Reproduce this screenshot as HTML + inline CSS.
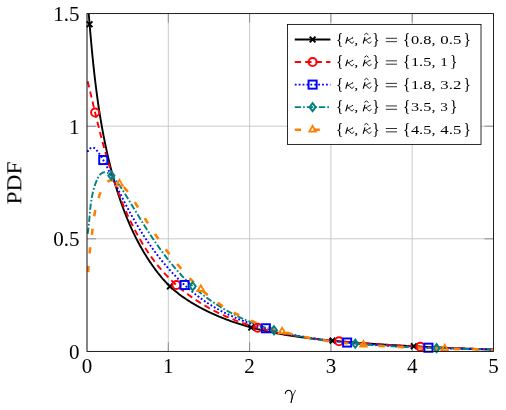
<!DOCTYPE html><html><head><meta charset="utf-8"><style>html,body{margin:0;padding:0;background:#fff}svg{display:block}text{font-family:"Liberation Serif",serif;fill:#000}</style></head><body>
<svg width="506" height="410" viewBox="0 0 506 410" style="will-change:transform">
<rect width="506" height="410" fill="#fff"/>
<line x1="87.00" y1="13.6" x2="87.00" y2="351.4" stroke="#bfbfbf" stroke-width="0.83"/>
<line x1="168.30" y1="13.6" x2="168.30" y2="351.4" stroke="#bfbfbf" stroke-width="0.83"/>
<line x1="249.60" y1="13.6" x2="249.60" y2="351.4" stroke="#bfbfbf" stroke-width="0.83"/>
<line x1="330.90" y1="13.6" x2="330.90" y2="351.4" stroke="#bfbfbf" stroke-width="0.83"/>
<line x1="412.20" y1="13.6" x2="412.20" y2="351.4" stroke="#bfbfbf" stroke-width="0.83"/>
<line x1="493.50" y1="13.6" x2="493.50" y2="351.4" stroke="#bfbfbf" stroke-width="0.83"/>
<line x1="87.0" y1="351.40" x2="493.5" y2="351.40" stroke="#bfbfbf" stroke-width="0.83"/>
<line x1="87.0" y1="238.80" x2="493.5" y2="238.80" stroke="#bfbfbf" stroke-width="0.83"/>
<line x1="87.0" y1="126.20" x2="493.5" y2="126.20" stroke="#bfbfbf" stroke-width="0.83"/>
<line x1="87.0" y1="13.60" x2="493.5" y2="13.60" stroke="#bfbfbf" stroke-width="0.83"/>
<path d="M168.30,13.6 v9.0 M168.30,351.4 v-9.0" stroke="#7c7c7c" stroke-width="0.83" fill="none"/>
<path d="M249.60,13.6 v9.0 M249.60,351.4 v-9.0" stroke="#7c7c7c" stroke-width="0.83" fill="none"/>
<path d="M330.90,13.6 v9.0 M330.90,351.4 v-9.0" stroke="#7c7c7c" stroke-width="0.83" fill="none"/>
<path d="M412.20,13.6 v9.0 M412.20,351.4 v-9.0" stroke="#7c7c7c" stroke-width="0.83" fill="none"/>
<path d="M87.0,238.80 h9.0 M493.5,238.80 h-9.0" stroke="#7c7c7c" stroke-width="0.83" fill="none"/>
<path d="M87.0,126.20 h9.0 M493.5,126.20 h-9.0" stroke="#7c7c7c" stroke-width="0.83" fill="none"/>
<clipPath id="c"><rect x="87.0" y="13.6" width="406.5" height="337.79999999999995"/></clipPath>
<g clip-path="url(#c)">
<path d="M88.72,13.56 L88.79,14.39 L88.86,15.22 L88.92,16.04 L88.99,16.87 L89.06,17.70 L89.13,18.53 L89.20,19.36 L89.27,20.19 L89.33,21.02 L89.40,21.85 L89.47,22.68 L89.54,23.51 L89.61,24.33 L89.68,25.16 L89.75,25.99 L89.82,26.82 L89.89,27.65 L89.96,28.48 L90.03,29.31 L90.10,30.14 L90.17,30.97 L90.25,31.80 L90.32,32.63 L90.39,33.46 L90.46,34.29 L90.53,35.13 L90.61,35.96 L90.68,36.79 L90.75,37.62 L90.83,38.45 L90.90,39.28 L90.98,40.11 L91.05,40.94 L91.13,41.77 L91.20,42.60 L91.28,43.43 L91.36,44.26 L91.43,45.10 L91.51,45.93 L91.59,46.76 L91.66,47.59 L91.74,48.42 L91.82,49.25 L91.90,50.08 L91.98,50.91 L92.06,51.75 L92.14,52.58 L92.22,53.41 L92.30,54.24 L92.38,55.07 L92.46,55.90 L92.55,56.73 L92.63,57.56 L92.71,58.40 L92.80,59.23 L92.88,60.06 L92.97,60.89 L93.05,61.72 L93.14,62.55 L93.22,63.38 L93.31,64.22 L93.40,65.05 L93.49,65.88 L93.58,66.71 L93.66,67.54 L93.75,68.37 L93.84,69.20 L93.94,70.03 L94.03,70.86 L94.12,71.69 L94.21,72.53 L94.30,73.36 L94.40,74.19 L94.49,75.02 L94.59,75.85 L94.68,76.68 L94.78,77.51 L94.88,78.34 L94.97,79.17 L95.07,80.00 L95.17,80.83 L95.27,81.66 L95.37,82.49 L95.47,83.32 L95.57,84.15 L95.67,84.98 L95.78,85.81 L95.88,86.64 L95.99,87.47 L96.09,88.30 L96.20,89.13 L96.30,89.96 L96.41,90.79 L96.52,91.62 L96.63,92.45 L96.74,93.27 L96.85,94.10 L96.96,94.93 L97.07,95.76 L97.18,96.59 L97.29,97.42 L97.41,98.24 L97.52,99.07 L97.64,99.90 L97.76,100.73 L97.87,101.56 L97.99,102.38 L98.11,103.21 L98.23,104.04 L98.35,104.86 L98.47,105.69 L98.60,106.52 L98.72,107.34 L98.84,108.17 L98.97,109.00 L99.09,109.82 L99.22,110.65 L99.35,111.47 L99.48,112.30 L99.61,113.13 L99.74,113.95 L99.87,114.78 L100.00,115.60 L100.13,116.42 L100.27,117.25 L100.40,118.07 L100.54,118.90 L100.68,119.72 L100.82,120.55 L100.96,121.37 L101.10,122.19 L101.24,123.01 L101.38,123.84 L101.52,124.66 L101.67,125.48 L101.81,126.31 L101.96,127.13 L102.10,127.95 L102.25,128.77 L102.40,129.59 L102.55,130.41 L102.70,131.23 L102.86,132.05 L103.01,132.88 L103.16,133.70 L103.32,134.52 L103.48,135.33 L103.64,136.15 L103.79,136.97 L103.95,137.79 L104.12,138.61 L104.28,139.43 L104.44,140.25 L104.61,141.07 L104.77,141.88 L104.94,142.70 L105.11,143.52 L105.28,144.34 L105.45,145.15 L105.62,145.97 L105.79,146.78 L105.97,147.60 L106.14,148.42 L106.32,149.23 L106.50,150.05 L106.68,150.86 L106.86,151.67 L107.04,152.49 L107.22,153.30 L107.40,154.12 L107.59,154.93 L107.78,155.74 L107.96,156.55 L108.15,157.37 L108.34,158.18 L108.53,158.99 L108.73,159.80 L108.92,160.61 L109.12,161.42 L109.31,162.23 L109.51,163.04 L109.71,163.85 L109.91,164.66 L110.11,165.47 L110.32,166.28 L110.52,167.09 L110.73,167.90 L110.94,168.70 L111.15,169.51 L111.36,170.32 L111.57,171.12 L111.78,171.93 L112.00,172.74 L112.21,173.54 L112.43,174.35 L112.65,175.15 L112.87,175.96 L113.09,176.76 L113.31,177.56 L113.54,178.37 L113.76,179.17 L113.99,179.97 L114.22,180.77 L114.45,181.58 L114.68,182.38 L114.92,183.18 L115.15,183.98 L115.39,184.78 L115.63,185.58 L115.86,186.38 L116.11,187.18 L116.35,187.97 L116.59,188.77 L116.84,189.57 L117.09,190.37 L117.34,191.16 L117.59,191.96 L117.84,192.75 L118.09,193.55 L118.35,194.34 L118.61,195.14 L118.87,195.93 L119.13,196.72 L119.39,197.51 L119.65,198.30 L119.92,199.09 L120.19,199.88 L120.46,200.67 L120.73,201.46 L121.00,202.25 L121.28,203.04 L121.56,203.83 L121.84,204.61 L122.12,205.40 L122.40,206.18 L122.68,206.96 L122.97,207.75 L123.26,208.53 L123.55,209.31 L123.84,210.09 L124.14,210.87 L124.44,211.65 L124.73,212.43 L125.03,213.21 L125.34,213.98 L125.64,214.76 L125.95,215.53 L126.26,216.31 L126.57,217.08 L126.88,217.85 L127.20,218.63 L127.52,219.40 L127.84,220.17 L128.16,220.93 L128.48,221.70 L128.81,222.47 L129.14,223.24 L129.47,224.00 L129.80,224.76 L130.14,225.53 L130.47,226.29 L130.81,227.05 L131.16,227.81 L131.50,228.57 L131.85,229.33 L132.20,230.08 L132.55,230.84 L132.90,231.59 L133.26,232.34 L133.62,233.10 L133.98,233.85 L134.34,234.60 L134.71,235.35 L135.08,236.09 L135.45,236.84 L135.82,237.59 L136.20,238.33 L136.58,239.07 L136.96,239.81 L137.34,240.55 L137.73,241.29 L138.11,242.03 L138.51,242.77 L138.90,243.50 L139.30,244.24 L139.70,244.97 L140.10,245.70 L140.50,246.43 L140.91,247.16 L141.32,247.89 L141.73,248.61 L142.15,249.34 L142.57,250.06 L142.99,250.78 L143.41,251.51 L143.84,252.22 L144.27,252.94 L144.70,253.66 L145.13,254.37 L145.57,255.09 L146.01,255.80 L146.45,256.51 L146.90,257.22 L147.35,257.92 L147.80,258.63 L148.26,259.33 L148.71,260.03 L149.17,260.73 L149.64,261.43 L150.10,262.13 L150.57,262.82 L151.05,263.51 L151.52,264.20 L152.00,264.89 L152.48,265.58 L152.96,266.26 L153.45,266.94 L153.94,267.62 L154.44,268.30 L154.93,268.97 L155.43,269.64 L155.93,270.31 L156.44,270.98 L156.95,271.64 L157.46,272.30 L157.97,272.96 L158.49,273.62 L159.01,274.27 L159.53,274.92 L160.06,275.57 L160.59,276.21 L161.12,276.85 L161.66,277.49 L162.20,278.13 L162.75,278.76 L163.29,279.39 L163.85,280.01 L164.40,280.63 L164.96,281.25 L165.53,281.86 L166.09,282.46 L166.67,283.07 L167.24,283.67 L167.83,284.26 L168.41,284.85 L169.01,285.43 L169.60,286.01 L170.20,286.59 L170.81,287.16 L171.42,287.72 L172.04,288.28 L172.66,288.84 L173.28,289.39 L173.91,289.94 L174.55,290.48 L175.19,291.02 L175.83,291.55 L176.47,292.08 L177.12,292.60 L177.78,293.12 L178.44,293.64 L179.10,294.15 L179.76,294.65 L180.43,295.15 L181.10,295.65 L181.78,296.15 L182.46,296.63 L183.14,297.12 L183.83,297.60 L184.52,298.08 L185.21,298.55 L185.90,299.02 L186.60,299.49 L187.30,299.95 L188.00,300.40 L188.71,300.86 L189.42,301.31 L190.13,301.75 L190.84,302.19 L191.56,302.63 L192.27,303.07 L192.99,303.50 L193.71,303.93 L194.44,304.35 L195.16,304.77 L195.89,305.19 L196.62,305.60 L197.35,306.01 L198.08,306.42 L198.81,306.82 L199.55,307.22 L200.28,307.62 L201.02,308.01 L201.76,308.40 L202.50,308.79 L203.24,309.18 L203.98,309.56 L204.73,309.94 L205.47,310.31 L206.22,310.68 L206.96,311.05 L207.71,311.42 L208.46,311.78 L209.21,312.14 L209.96,312.49 L210.71,312.85 L211.47,313.20 L212.22,313.55 L212.98,313.89 L213.74,314.23 L214.49,314.57 L215.25,314.91 L216.01,315.24 L216.77,315.57 L217.54,315.90 L218.30,316.22 L219.06,316.54 L219.83,316.86 L220.60,317.18 L221.36,317.49 L222.13,317.80 L222.90,318.11 L223.67,318.41 L224.44,318.71 L225.22,319.01 L225.99,319.31 L226.76,319.60 L227.54,319.89 L228.32,320.18 L229.09,320.47 L229.87,320.75 L230.65,321.03 L231.43,321.31 L232.21,321.58 L232.99,321.86 L233.78,322.13 L234.56,322.39 L235.35,322.66 L236.13,322.92 L236.92,323.18 L237.70,323.44 L238.49,323.70 L239.28,323.95 L240.07,324.20 L240.86,324.45 L241.65,324.69 L242.45,324.94 L243.24,325.18 L244.03,325.42 L244.83,325.65 L245.62,325.89 L246.42,326.12 L247.22,326.35 L248.01,326.57 L248.81,326.80 L249.61,327.02 L250.41,327.24 L251.21,327.46 L252.01,327.67 L252.82,327.89 L253.62,328.10 L254.42,328.31 L255.23,328.52 L256.03,328.72 L256.84,328.93 L257.64,329.13 L258.45,329.33 L259.26,329.52 L260.07,329.72 L260.88,329.91 L261.69,330.10 L262.50,330.29 L263.31,330.48 L264.12,330.66 L264.93,330.84 L265.74,331.03 L266.56,331.20 L267.37,331.38 L268.19,331.56 L269.00,331.73 L269.82,331.90 L270.63,332.07 L271.45,332.24 L272.27,332.41 L273.09,332.57 L273.90,332.73 L274.72,332.89 L275.54,333.05 L276.36,333.21 L277.18,333.37 L278.00,333.52 L278.82,333.67 L279.65,333.82 L280.47,333.97 L281.29,334.12 L282.12,334.27 L282.94,334.41 L283.76,334.55 L284.59,334.69 L285.41,334.83 L286.24,334.97 L287.06,335.11 L287.89,335.24 L288.72,335.37 L289.54,335.51 L290.37,335.64 L291.20,335.77 L292.03,335.89 L292.85,336.02 L293.68,336.14 L294.51,336.27 L295.34,336.39 L296.17,336.51 L297.00,336.63 L297.83,336.75 L298.66,336.86 L299.49,336.98 L300.33,337.09 L301.16,337.21 L301.99,337.32 L302.82,337.43 L303.65,337.54 L304.49,337.65 L305.32,337.75 L306.15,337.86 L306.98,337.96 L307.82,338.07 L308.65,338.17 L309.49,338.27 L310.32,338.37 L311.15,338.47 L311.99,338.57 L312.82,338.66 L313.66,338.76 L314.49,338.85 L315.33,338.95 L316.16,339.04 L317.00,339.13 L317.83,339.22 L318.67,339.31 L319.51,339.40 L320.34,339.49 L321.18,339.58 L322.01,339.66 L322.85,339.75 L323.69,339.83 L324.52,339.92 L325.36,340.00 L326.20,340.08 L327.03,340.16 L327.87,340.24 L328.71,340.32 L329.54,340.40 L330.38,340.48 L331.21,340.56 L332.05,340.64 L332.89,340.71 L333.72,340.79 L334.56,340.86 L335.40,340.94 L336.23,341.01 L337.07,341.08 L337.91,341.16 L338.74,341.23 L339.58,341.30 L340.42,341.37 L341.25,341.44 L342.09,341.51 L342.92,341.58 L343.76,341.65 L344.59,341.72 L345.43,341.79 L346.27,341.85 L347.10,341.92 L347.94,341.99 L348.77,342.06 L349.61,342.12 L350.44,342.19 L351.28,342.25 L352.11,342.32 L352.94,342.38 L353.78,342.45 L354.61,342.51 L355.45,342.58 L356.28,342.64 L357.11,342.70 L357.95,342.76 L358.78,342.83 L359.61,342.89 L360.45,342.95 L361.28,343.01 L362.11,343.07 L362.94,343.13 L363.78,343.19 L364.61,343.25 L365.44,343.31 L366.27,343.37 L367.11,343.43 L367.94,343.49 L368.77,343.55 L369.60,343.61 L370.43,343.66 L371.26,343.72 L372.10,343.78 L372.93,343.84 L373.76,343.89 L374.59,343.95 L375.42,344.00 L376.25,344.06 L377.08,344.12 L377.91,344.17 L378.74,344.22 L379.57,344.28 L380.41,344.33 L381.24,344.39 L382.07,344.44 L382.90,344.49 L383.73,344.55 L384.56,344.60 L385.39,344.65 L386.22,344.70 L387.05,344.75 L387.88,344.81 L388.71,344.86 L389.54,344.91 L390.37,344.96 L391.20,345.01 L392.03,345.06 L392.86,345.11 L393.69,345.16 L394.52,345.21 L395.35,345.26 L396.18,345.30 L397.01,345.35 L397.84,345.40 L398.67,345.45 L399.50,345.50 L400.33,345.54 L401.16,345.59 L401.99,345.64 L402.82,345.68 L403.65,345.73 L404.48,345.78 L405.31,345.82 L406.14,345.87 L406.97,345.91 L407.80,345.96 L408.63,346.00 L409.46,346.05 L410.29,346.09 L411.12,346.13 L411.95,346.18 L412.78,346.22 L413.61,346.26 L414.44,346.31 L415.27,346.35 L416.10,346.39 L416.93,346.43 L417.76,346.48 L418.59,346.52 L419.42,346.56 L420.25,346.60 L421.08,346.64 L421.91,346.68 L422.74,346.72 L423.57,346.77 L424.40,346.81 L425.23,346.85 L426.07,346.89 L426.90,346.92 L427.73,346.96 L428.56,347.00 L429.39,347.04 L430.22,347.08 L431.05,347.12 L431.88,347.16 L432.72,347.20 L433.55,347.23 L434.38,347.27 L435.21,347.31 L436.04,347.35 L436.87,347.38 L437.71,347.42 L438.54,347.46 L439.37,347.49 L440.20,347.53 L441.04,347.57 L441.87,347.60 L442.70,347.64 L443.54,347.68 L444.37,347.71 L445.20,347.75 L446.04,347.78 L446.87,347.82 L447.70,347.85 L448.54,347.89 L449.37,347.92 L450.20,347.95 L451.04,347.99 L451.87,348.02 L452.71,348.06 L453.54,348.09 L454.38,348.12 L455.21,348.16 L456.05,348.19 L456.88,348.22 L457.72,348.26 L458.55,348.29 L459.39,348.32 L460.23,348.35 L461.06,348.39 L461.90,348.42 L462.73,348.45 L463.57,348.48 L464.41,348.51 L465.25,348.54 L466.08,348.58 L466.92,348.61 L467.76,348.64 L468.60,348.67 L469.43,348.70 L470.27,348.73 L471.11,348.76 L471.95,348.79 L472.79,348.82 L473.63,348.85 L474.47,348.88 L475.31,348.91 L476.15,348.94 L476.99,348.97 L477.83,349.00 L478.67,349.03 L479.51,349.06 L480.35,349.09 L481.19,349.12 L482.03,349.15 L482.87,349.18 L483.72,349.20 L484.56,349.23 L485.40,349.26 L486.24,349.29 L487.09,349.32 L487.93,349.35 L488.77,349.37 L489.62,349.40 L490.46,349.43 L491.30,349.46 L492.15,349.49 L492.99,349.51" fill="none" stroke="#000000" stroke-width="1.9" stroke-linejoin="round"/>
<path d="M87.68,81.29 L87.85,82.00 L88.02,82.72 L88.19,83.43 L88.36,84.15 L88.54,84.86 L88.71,85.58 L88.88,86.30 L89.05,87.01 L89.22,87.73 L89.39,88.45 L89.56,89.16 L89.73,89.88 L89.90,90.60 L90.07,91.31 L90.24,92.03 L90.41,92.75 L90.58,93.47 L90.75,94.18 L90.92,94.90 L91.09,95.62 L91.26,96.34 L91.43,97.06 L91.60,97.77 L91.77,98.49 L91.94,99.21 L92.11,99.93 L92.28,100.65 L92.45,101.37 L92.63,102.09 L92.80,102.81 L92.97,103.53 L93.14,104.25 L93.31,104.97 L93.48,105.68 L93.65,106.40 L93.83,107.12 L94.00,107.84 L94.17,108.56 L94.34,109.28 L94.51,110.00 L94.69,110.72 L94.86,111.44 L95.03,112.16 L95.21,112.88 L95.38,113.60 L95.55,114.32 L95.73,115.04 L95.90,115.76 L96.08,116.48 L96.25,117.20 L96.43,117.92 L96.60,118.64 L96.78,119.36 L96.96,120.08 L97.13,120.80 L97.31,121.52 L97.49,122.24 L97.67,122.96 L97.84,123.68 L98.02,124.40 L98.20,125.12 L98.38,125.84 L98.56,126.56 L98.74,127.28 L98.92,128.00 L99.10,128.72 L99.28,129.44 L99.47,130.16 L99.65,130.88 L99.83,131.60 L100.02,132.32 L100.20,133.04 L100.38,133.76 L100.57,134.47 L100.75,135.19 L100.94,135.91 L101.13,136.63 L101.31,137.35 L101.50,138.07 L101.69,138.78 L101.88,139.50 L102.07,140.22 L102.26,140.94 L102.45,141.66 L102.64,142.37 L102.83,143.09 L103.02,143.81 L103.22,144.52 L103.41,145.24 L103.61,145.96 L103.80,146.67 L104.00,147.39 L104.19,148.10 L104.39,148.82 L104.59,149.54 L104.79,150.25 L104.99,150.97 L105.19,151.68 L105.39,152.39 L105.59,153.11 L105.79,153.82 L106.00,154.54 L106.20,155.25 L106.40,155.96 L106.61,156.68 L106.82,157.39 L107.02,158.10 L107.23,158.81 L107.44,159.53 L107.65,160.24 L107.86,160.95 L108.07,161.66 L108.28,162.37 L108.50,163.08 L108.71,163.79 L108.93,164.50 L109.14,165.21 L109.36,165.92 L109.58,166.63 L109.80,167.34 L110.02,168.05 L110.24,168.76 L110.46,169.46 L110.68,170.17 L110.90,170.88 L111.13,171.59 L111.35,172.29 L111.58,173.00 L111.81,173.70 L112.04,174.41 L112.27,175.11 L112.50,175.82 L112.73,176.52 L112.96,177.23 L113.20,177.93 L113.43,178.63 L113.67,179.34 L113.90,180.04 L114.14,180.74 L114.38,181.44 L114.62,182.14 L114.86,182.84 L115.11,183.54 L115.35,184.24 L115.60,184.94 L115.84,185.64 L116.09,186.34 L116.34,187.04 L116.59,187.74 L116.84,188.43 L117.09,189.13 L117.35,189.83 L117.60,190.52 L117.86,191.22 L118.11,191.91 L118.37,192.61 L118.63,193.30 L118.89,193.99 L119.16,194.69 L119.42,195.38 L119.69,196.07 L119.95,196.76 L120.22,197.45 L120.49,198.14 L120.76,198.83 L121.03,199.52 L121.31,200.21 L121.58,200.90 L121.86,201.59 L122.13,202.27 L122.41,202.96 L122.69,203.65 L122.97,204.33 L123.26,205.02 L123.54,205.70 L123.83,206.39 L124.12,207.07 L124.41,207.75 L124.70,208.43 L124.99,209.11 L125.28,209.80 L125.58,210.48 L125.87,211.15 L126.17,211.83 L126.47,212.51 L126.77,213.19 L127.07,213.87 L127.38,214.54 L127.68,215.22 L127.99,215.89 L128.30,216.57 L128.61,217.24 L128.92,217.92 L129.24,218.59 L129.55,219.26 L129.87,219.93 L130.19,220.60 L130.51,221.27 L130.83,221.94 L131.15,222.61 L131.48,223.28 L131.81,223.95 L132.14,224.61 L132.47,225.28 L132.80,225.94 L133.13,226.61 L133.47,227.27 L133.81,227.93 L134.15,228.59 L134.49,229.26 L134.83,229.92 L135.17,230.57 L135.52,231.23 L135.87,231.89 L136.22,232.55 L136.57,233.20 L136.93,233.86 L137.28,234.51 L137.64,235.16 L138.00,235.81 L138.36,236.46 L138.72,237.11 L139.09,237.76 L139.46,238.40 L139.82,239.05 L140.20,239.69 L140.57,240.34 L140.94,240.98 L141.32,241.62 L141.70,242.26 L142.08,242.90 L142.46,243.53 L142.85,244.17 L143.24,244.80 L143.63,245.43 L144.02,246.07 L144.41,246.70 L144.81,247.32 L145.20,247.95 L145.60,248.58 L146.01,249.20 L146.41,249.82 L146.82,250.44 L147.22,251.06 L147.64,251.68 L148.05,252.30 L148.46,252.91 L148.88,253.52 L149.30,254.14 L149.72,254.75 L150.14,255.35 L150.57,255.96 L151.00,256.56 L151.43,257.17 L151.86,257.77 L152.30,258.37 L152.74,258.96 L153.18,259.56 L153.62,260.15 L154.06,260.75 L154.51,261.34 L154.96,261.92 L155.41,262.51 L155.86,263.09 L156.32,263.68 L156.78,264.26 L157.24,264.83 L157.70,265.41 L158.17,265.98 L158.64,266.56 L159.11,267.13 L159.58,267.69 L160.06,268.26 L160.54,268.82 L161.02,269.39 L161.50,269.94 L161.99,270.50 L162.47,271.06 L162.96,271.61 L163.46,272.16 L163.95,272.71 L164.45,273.25 L164.95,273.80 L165.46,274.34 L165.96,274.88 L166.47,275.41 L166.98,275.95 L167.50,276.48 L168.01,277.01 L168.53,277.53 L169.05,278.06 L169.58,278.58 L170.10,279.10 L170.63,279.62 L171.16,280.13 L171.70,280.65 L172.23,281.16 L172.77,281.67 L173.31,282.17 L173.85,282.68 L174.40,283.18 L174.94,283.68 L175.49,284.17 L176.04,284.67 L176.60,285.16 L177.15,285.65 L177.71,286.14 L178.27,286.62 L178.83,287.10 L179.40,287.58 L179.96,288.06 L180.53,288.54 L181.10,289.01 L181.67,289.48 L182.25,289.95 L182.82,290.41 L183.40,290.88 L183.98,291.34 L184.56,291.79 L185.15,292.25 L185.73,292.70 L186.32,293.16 L186.91,293.60 L187.50,294.05 L188.10,294.49 L188.69,294.94 L189.29,295.37 L189.89,295.81 L190.49,296.25 L191.09,296.68 L191.70,297.11 L192.30,297.53 L192.91,297.96 L193.52,298.38 L194.13,298.80 L194.74,299.22 L195.36,299.63 L195.97,300.04 L196.59,300.45 L197.21,300.86 L197.83,301.27 L198.45,301.67 L199.07,302.07 L199.70,302.47 L200.33,302.86 L200.95,303.25 L201.58,303.64 L202.22,304.03 L202.85,304.42 L203.48,304.80 L204.12,305.18 L204.75,305.56 L205.39,305.93 L206.03,306.30 L206.67,306.67 L207.31,307.04 L207.96,307.41 L208.60,307.77 L209.25,308.13 L209.89,308.49 L210.54,308.84 L211.19,309.20 L211.84,309.55 L212.50,309.89 L213.15,310.24 L213.80,310.58 L214.46,310.92 L215.11,311.26 L215.77,311.60 L216.43,311.93 L217.09,312.26 L217.75,312.59 L218.41,312.91 L219.07,313.23 L219.74,313.55 L220.40,313.87 L221.07,314.19 L221.74,314.50 L222.40,314.81 L223.07,315.12 L223.74,315.42 L224.41,315.73 L225.08,316.03 L225.76,316.32 L226.43,316.62 L227.10,316.91 L227.78,317.20 L228.46,317.49 L229.13,317.78 L229.81,318.06 L230.49,318.35 L231.17,318.63 L231.85,318.90 L232.53,319.18 L233.22,319.45 L233.90,319.72 L234.59,319.99 L235.27,320.26 L235.96,320.52 L236.65,320.78 L237.33,321.04 L238.02,321.30 L238.71,321.56 L239.40,321.81 L240.09,322.06 L240.79,322.31 L241.48,322.56 L242.17,322.80 L242.87,323.04 L243.56,323.28 L244.26,323.52 L244.96,323.76 L245.66,323.99 L246.35,324.23 L247.05,324.46 L247.75,324.69 L248.46,324.91 L249.16,325.14 L249.86,325.36 L250.56,325.58 L251.27,325.80 L251.97,326.01 L252.68,326.23 L253.38,326.44 L254.09,326.65 L254.80,326.86 L255.51,327.07 L256.21,327.27 L256.92,327.48 L257.63,327.68 L258.34,327.88 L259.06,328.08 L259.77,328.27 L260.48,328.47 L261.19,328.66 L261.91,328.85 L262.62,329.04 L263.34,329.23 L264.05,329.41 L264.77,329.60 L265.49,329.78 L266.21,329.96 L266.92,330.14 L267.64,330.31 L268.36,330.49 L269.08,330.66 L269.80,330.84 L270.52,331.01 L271.25,331.17 L271.97,331.34 L272.69,331.51 L273.42,331.67 L274.14,331.83 L274.86,331.99 L275.59,332.15 L276.31,332.31 L277.04,332.47 L277.77,332.62 L278.49,332.77 L279.22,332.93 L279.95,333.08 L280.68,333.22 L281.40,333.37 L282.13,333.52 L282.86,333.66 L283.59,333.80 L284.32,333.95 L285.06,334.09 L285.79,334.22 L286.52,334.36 L287.25,334.50 L287.98,334.63 L288.72,334.77 L289.45,334.90 L290.18,335.03 L290.92,335.16 L291.65,335.28 L292.39,335.41 L293.12,335.54 L293.86,335.66 L294.59,335.78 L295.33,335.90 L296.07,336.03 L296.80,336.14 L297.54,336.26 L298.28,336.38 L299.01,336.49 L299.75,336.61 L300.49,336.72 L301.23,336.83 L301.97,336.94 L302.71,337.05 L303.45,337.16 L304.19,337.27 L304.93,337.38 L305.67,337.48 L306.41,337.59 L307.15,337.69 L307.89,337.79 L308.63,337.89 L309.37,337.99 L310.11,338.09 L310.85,338.19 L311.60,338.29 L312.34,338.38 L313.08,338.48 L313.82,338.57 L314.56,338.66 L315.31,338.76 L316.05,338.85 L316.79,338.94 L317.54,339.03 L318.28,339.12 L319.02,339.20 L319.77,339.29 L320.51,339.38 L321.25,339.46 L322.00,339.55 L322.74,339.63 L323.49,339.71 L324.23,339.79 L324.97,339.87 L325.72,339.96 L326.46,340.03 L327.21,340.11 L327.95,340.19 L328.70,340.27 L329.44,340.35 L330.19,340.42 L330.93,340.50 L331.67,340.57 L332.42,340.64 L333.16,340.72 L333.91,340.79 L334.65,340.86 L335.40,340.93 L336.14,341.00 L336.89,341.07 L337.63,341.14 L338.38,341.21 L339.12,341.28 L339.86,341.35 L340.61,341.42 L341.35,341.48 L342.10,341.55 L342.84,341.61 L343.58,341.68 L344.33,341.74 L345.07,341.81 L345.82,341.87 L346.56,341.93 L347.30,342.00 L348.05,342.06 L348.79,342.12 L349.53,342.18 L350.28,342.24 L351.02,342.31 L351.76,342.37 L352.50,342.43 L353.25,342.49 L353.99,342.54 L354.73,342.60 L355.47,342.66 L356.21,342.72 L356.95,342.78 L357.69,342.84 L358.44,342.89 L359.18,342.95 L359.92,343.01 L360.66,343.06 L361.40,343.12 L362.14,343.18 L362.88,343.23 L363.62,343.29 L364.36,343.34 L365.10,343.40 L365.83,343.45 L366.57,343.51 L367.31,343.56 L368.05,343.61 L368.79,343.67 L369.53,343.72 L370.27,343.77 L371.00,343.83 L371.74,343.88 L372.48,343.93 L373.22,343.98 L373.96,344.03 L374.69,344.08 L375.43,344.14 L376.17,344.19 L376.90,344.24 L377.64,344.29 L378.38,344.34 L379.12,344.39 L379.85,344.43 L380.59,344.48 L381.33,344.53 L382.06,344.58 L382.80,344.63 L383.53,344.68 L384.27,344.72 L385.01,344.77 L385.74,344.82 L386.48,344.86 L387.21,344.91 L387.95,344.96 L388.68,345.00 L389.42,345.05 L390.16,345.09 L390.89,345.14 L391.63,345.18 L392.36,345.23 L393.10,345.27 L393.83,345.32 L394.57,345.36 L395.30,345.41 L396.04,345.45 L396.77,345.49 L397.51,345.53 L398.24,345.58 L398.98,345.62 L399.71,345.66 L400.45,345.70 L401.18,345.75 L401.92,345.79 L402.65,345.83 L403.39,345.87 L404.12,345.91 L404.86,345.95 L405.59,345.99 L406.33,346.03 L407.06,346.07 L407.79,346.11 L408.53,346.15 L409.26,346.19 L410.00,346.23 L410.73,346.26 L411.47,346.30 L412.20,346.34 L412.94,346.38 L413.67,346.42 L414.41,346.45 L415.14,346.49 L415.88,346.53 L416.61,346.56 L417.35,346.60 L418.08,346.64 L418.82,346.67 L419.55,346.71 L420.29,346.74 L421.03,346.78 L421.76,346.81 L422.50,346.85 L423.23,346.88 L423.97,346.92 L424.70,346.95 L425.44,346.98 L426.17,347.02 L426.91,347.05 L427.65,347.08 L428.38,347.12 L429.12,347.15 L429.86,347.18 L430.59,347.22 L431.33,347.25 L432.06,347.28 L432.80,347.31 L433.54,347.34 L434.28,347.37 L435.01,347.41 L435.75,347.44 L436.49,347.47 L437.22,347.50 L437.96,347.53 L438.70,347.56 L439.44,347.59 L440.17,347.62 L440.91,347.65 L441.65,347.68 L442.39,347.71 L443.13,347.74 L443.87,347.76 L444.61,347.79 L445.34,347.82 L446.08,347.85 L446.82,347.88 L447.56,347.91 L448.30,347.93 L449.04,347.96 L449.78,347.99 L450.52,348.01 L451.26,348.04 L452.00,348.07 L452.74,348.09 L453.48,348.12 L454.22,348.15 L454.97,348.17 L455.71,348.20 L456.45,348.22 L457.19,348.25 L457.93,348.27 L458.67,348.30 L459.42,348.32 L460.16,348.35 L460.90,348.37 L461.64,348.40 L462.39,348.42 L463.13,348.45 L463.88,348.47 L464.62,348.49 L465.36,348.52 L466.11,348.54 L466.85,348.56 L467.60,348.59 L468.34,348.61 L469.09,348.63 L469.83,348.65 L470.58,348.68 L471.33,348.70 L472.07,348.72 L472.82,348.74 L473.56,348.76 L474.31,348.79 L475.06,348.81 L475.81,348.83 L476.56,348.85 L477.30,348.87 L478.05,348.89 L478.80,348.91 L479.55,348.93 L480.30,348.95 L481.05,348.97 L481.80,348.99 L482.55,349.01 L483.30,349.03 L484.05,349.05 L484.80,349.07 L485.55,349.09 L486.31,349.11 L487.06,349.13 L487.81,349.15 L488.56,349.17 L489.32,349.18 L490.07,349.20 L490.82,349.22 L491.58,349.24 L492.33,349.26 L493.09,349.27" fill="none" stroke="#ff0000" stroke-width="1.9" stroke-linejoin="round" stroke-dasharray="6.25 4.17"/>
<path d="M87.90,152.00 L87.90,151.40 L88.04,150.78 L88.34,150.18 L88.77,149.60 L89.30,149.07 L89.90,148.59 L90.55,148.19 L91.24,147.88 L91.93,147.67 L92.59,147.59 L93.22,147.64 L93.81,147.82 L94.35,148.10 L94.86,148.47 L95.34,148.91 L95.81,149.40 L96.25,149.91 L96.69,150.43 L97.12,150.96 L97.54,151.49 L97.96,152.02 L98.37,152.56 L98.77,153.10 L99.16,153.64 L99.55,154.19 L99.93,154.73 L100.30,155.28 L100.67,155.84 L101.04,156.39 L101.39,156.95 L101.75,157.51 L102.09,158.08 L102.44,158.64 L102.77,159.21 L103.11,159.78 L103.44,160.35 L103.77,160.93 L104.09,161.50 L104.41,162.08 L104.72,162.66 L105.04,163.23 L105.35,163.82 L105.66,164.40 L105.96,164.98 L106.27,165.56 L106.57,166.15 L106.87,166.73 L107.17,167.32 L107.47,167.91 L107.77,168.50 L108.06,169.08 L108.36,169.67 L108.66,170.26 L108.95,170.85 L109.25,171.44 L109.54,172.03 L109.84,172.62 L110.13,173.21 L110.43,173.80 L110.72,174.39 L111.02,174.98 L111.31,175.57 L111.60,176.16 L111.89,176.75 L112.19,177.34 L112.48,177.94 L112.77,178.53 L113.06,179.12 L113.36,179.71 L113.65,180.30 L113.94,180.90 L114.23,181.49 L114.52,182.08 L114.82,182.67 L115.11,183.27 L115.40,183.86 L115.69,184.45 L115.98,185.04 L116.27,185.64 L116.57,186.23 L116.86,186.82 L117.15,187.42 L117.44,188.01 L117.74,188.60 L118.03,189.19 L118.32,189.79 L118.61,190.38 L118.91,190.97 L119.20,191.56 L119.49,192.16 L119.79,192.75 L120.08,193.34 L120.38,193.93 L120.67,194.52 L120.97,195.11 L121.26,195.71 L121.56,196.30 L121.86,196.89 L122.16,197.48 L122.45,198.07 L122.75,198.66 L123.05,199.25 L123.35,199.84 L123.65,200.43 L123.95,201.02 L124.25,201.60 L124.55,202.19 L124.85,202.78 L125.16,203.37 L125.46,203.96 L125.76,204.54 L126.07,205.13 L126.37,205.72 L126.68,206.30 L126.99,206.89 L127.30,207.47 L127.60,208.06 L127.91,208.64 L128.22,209.22 L128.54,209.81 L128.85,210.39 L129.16,210.97 L129.47,211.55 L129.79,212.13 L130.11,212.71 L130.42,213.29 L130.74,213.87 L131.06,214.45 L131.38,215.03 L131.70,215.61 L132.02,216.19 L132.34,216.76 L132.67,217.34 L132.99,217.91 L133.32,218.49 L133.64,219.06 L133.97,219.64 L134.30,220.21 L134.63,220.78 L134.96,221.35 L135.29,221.92 L135.62,222.49 L135.96,223.06 L136.29,223.63 L136.63,224.20 L136.97,224.77 L137.30,225.34 L137.64,225.90 L137.98,226.47 L138.32,227.03 L138.67,227.60 L139.01,228.16 L139.35,228.73 L139.70,229.29 L140.05,229.85 L140.39,230.41 L140.74,230.97 L141.09,231.53 L141.44,232.09 L141.80,232.65 L142.15,233.21 L142.50,233.76 L142.86,234.32 L143.22,234.87 L143.57,235.43 L143.93,235.98 L144.29,236.53 L144.65,237.09 L145.02,237.64 L145.38,238.19 L145.74,238.74 L146.11,239.29 L146.48,239.84 L146.85,240.38 L147.22,240.93 L147.59,241.48 L147.96,242.02 L148.33,242.57 L148.70,243.11 L149.08,243.65 L149.46,244.19 L149.83,244.73 L150.21,245.27 L150.59,245.81 L150.97,246.35 L151.36,246.89 L151.74,247.43 L152.13,247.96 L152.51,248.50 L152.90,249.03 L153.29,249.56 L153.68,250.10 L154.07,250.63 L154.46,251.16 L154.86,251.69 L155.25,252.22 L155.65,252.75 L156.05,253.27 L156.45,253.80 L156.85,254.32 L157.25,254.85 L157.65,255.37 L158.05,255.89 L158.46,256.41 L158.87,256.94 L159.27,257.45 L159.68,257.97 L160.09,258.49 L160.51,259.01 L160.92,259.52 L161.34,260.04 L161.75,260.55 L162.17,261.06 L162.59,261.57 L163.01,262.09 L163.43,262.59 L163.85,263.10 L164.28,263.61 L164.70,264.12 L165.13,264.62 L165.56,265.13 L165.99,265.63 L166.42,266.13 L166.85,266.63 L167.28,267.13 L167.72,267.63 L168.16,268.13 L168.59,268.63 L169.03,269.13 L169.47,269.62 L169.92,270.11 L170.36,270.61 L170.81,271.10 L171.25,271.59 L171.70,272.08 L172.15,272.57 L172.60,273.05 L173.05,273.54 L173.51,274.02 L173.96,274.51 L174.42,274.99 L174.88,275.47 L175.34,275.95 L175.80,276.43 L176.26,276.91 L176.72,277.38 L177.19,277.86 L177.66,278.33 L178.12,278.80 L178.59,279.27 L179.06,279.74 L179.54,280.21 L180.01,280.67 L180.49,281.14 L180.96,281.60 L181.44,282.06 L181.92,282.52 L182.40,282.98 L182.88,283.44 L183.37,283.89 L183.85,284.35 L184.34,284.80 L184.83,285.25 L185.32,285.70 L185.81,286.14 L186.30,286.59 L186.80,287.03 L187.29,287.47 L187.79,287.91 L188.29,288.35 L188.79,288.79 L189.29,289.22 L189.79,289.65 L190.29,290.09 L190.80,290.51 L191.31,290.94 L191.82,291.37 L192.33,291.79 L192.84,292.21 L193.35,292.63 L193.86,293.05 L194.38,293.46 L194.90,293.88 L195.42,294.29 L195.94,294.70 L196.46,295.10 L196.98,295.51 L197.50,295.91 L198.03,296.31 L198.56,296.71 L199.09,297.11 L199.62,297.50 L200.15,297.89 L200.68,298.28 L201.22,298.67 L201.75,299.05 L202.29,299.44 L202.83,299.82 L203.37,300.20 L203.91,300.57 L204.45,300.95 L205.00,301.32 L205.54,301.69 L206.09,302.05 L206.64,302.42 L207.19,302.78 L207.74,303.14 L208.30,303.49 L208.85,303.85 L209.41,304.20 L209.96,304.55 L210.52,304.90 L211.08,305.24 L211.64,305.59 L212.21,305.93 L212.77,306.27 L213.34,306.60 L213.90,306.94 L214.47,307.27 L215.04,307.60 L215.61,307.93 L216.18,308.25 L216.75,308.57 L217.33,308.90 L217.90,309.21 L218.48,309.53 L219.06,309.85 L219.64,310.16 L220.22,310.47 L220.80,310.78 L221.38,311.08 L221.96,311.39 L222.55,311.69 L223.14,311.99 L223.72,312.29 L224.31,312.58 L224.90,312.87 L225.49,313.17 L226.08,313.46 L226.67,313.74 L227.27,314.03 L227.86,314.31 L228.46,314.59 L229.05,314.87 L229.65,315.15 L230.25,315.43 L230.85,315.70 L231.45,315.97 L232.05,316.24 L232.65,316.51 L233.26,316.77 L233.86,317.04 L234.47,317.30 L235.07,317.56 L235.68,317.82 L236.29,318.08 L236.90,318.33 L237.51,318.58 L238.12,318.84 L238.73,319.08 L239.34,319.33 L239.95,319.58 L240.57,319.82 L241.18,320.06 L241.80,320.30 L242.41,320.54 L243.03,320.78 L243.65,321.01 L244.27,321.25 L244.89,321.48 L245.51,321.71 L246.13,321.94 L246.75,322.16 L247.37,322.39 L248.00,322.61 L248.62,322.83 L249.24,323.05 L249.87,323.27 L250.49,323.49 L251.12,323.70 L251.75,323.92 L252.38,324.13 L253.00,324.34 L253.63,324.55 L254.26,324.76 L254.89,324.96 L255.52,325.16 L256.15,325.37 L256.79,325.57 L257.42,325.77 L258.05,325.97 L258.68,326.16 L259.32,326.36 L259.95,326.55 L260.59,326.74 L261.22,326.93 L261.86,327.12 L262.50,327.31 L263.13,327.50 L263.77,327.68 L264.41,327.86 L265.04,328.05 L265.68,328.23 L266.32,328.41 L266.96,328.58 L267.60,328.76 L268.24,328.94 L268.88,329.11 L269.52,329.28 L270.16,329.45 L270.80,329.62 L271.45,329.79 L272.09,329.96 L272.73,330.13 L273.37,330.29 L274.02,330.46 L274.66,330.62 L275.30,330.78 L275.95,330.94 L276.59,331.10 L277.23,331.25 L277.88,331.41 L278.52,331.57 L279.17,331.72 L279.81,331.87 L280.46,332.02 L281.10,332.17 L281.75,332.32 L282.39,332.47 L283.04,332.62 L283.68,332.77 L284.33,332.91 L284.98,333.05 L285.62,333.20 L286.27,333.34 L286.92,333.48 L287.56,333.62 L288.21,333.76 L288.86,333.89 L289.51,334.03 L290.15,334.16 L290.80,334.30 L291.45,334.43 L292.10,334.56 L292.75,334.69 L293.40,334.82 L294.05,334.95 L294.69,335.08 L295.34,335.20 L295.99,335.33 L296.64,335.46 L297.29,335.58 L297.94,335.70 L298.59,335.82 L299.24,335.94 L299.89,336.06 L300.54,336.18 L301.19,336.30 L301.84,336.42 L302.49,336.53 L303.15,336.65 L303.80,336.76 L304.45,336.87 L305.10,336.99 L305.75,337.10 L306.40,337.21 L307.05,337.32 L307.71,337.43 L308.36,337.53 L309.01,337.64 L309.66,337.75 L310.32,337.85 L310.97,337.95 L311.62,338.06 L312.27,338.16 L312.93,338.26 L313.58,338.36 L314.23,338.46 L314.89,338.56 L315.54,338.66 L316.19,338.76 L316.85,338.85 L317.50,338.95 L318.16,339.04 L318.81,339.14 L319.46,339.23 L320.12,339.32 L320.77,339.42 L321.43,339.51 L322.08,339.60 L322.74,339.69 L323.39,339.78 L324.05,339.86 L324.70,339.95 L325.36,340.04 L326.01,340.12 L326.67,340.21 L327.32,340.29 L327.98,340.38 L328.64,340.46 L329.29,340.54 L329.95,340.63 L330.60,340.71 L331.26,340.79 L331.92,340.87 L332.57,340.95 L333.23,341.02 L333.88,341.10 L334.54,341.18 L335.20,341.26 L335.85,341.33 L336.51,341.41 L337.17,341.48 L337.82,341.56 L338.48,341.63 L339.14,341.70 L339.80,341.77 L340.45,341.85 L341.11,341.92 L341.77,341.99 L342.43,342.06 L343.08,342.13 L343.74,342.20 L344.40,342.26 L345.06,342.33 L345.71,342.40 L346.37,342.47 L347.03,342.53 L347.69,342.60 L348.34,342.66 L349.00,342.73 L349.66,342.79 L350.32,342.86 L350.98,342.92 L351.64,342.98 L352.29,343.04 L352.95,343.11 L353.61,343.17 L354.27,343.23 L354.93,343.29 L355.59,343.35 L356.24,343.41 L356.90,343.47 L357.56,343.53 L358.22,343.58 L358.88,343.64 L359.54,343.70 L360.20,343.76 L360.85,343.81 L361.51,343.87 L362.17,343.92 L362.83,343.98 L363.49,344.03 L364.15,344.09 L364.81,344.14 L365.47,344.20 L366.13,344.25 L366.79,344.30 L367.44,344.35 L368.10,344.41 L368.76,344.46 L369.42,344.51 L370.08,344.56 L370.74,344.61 L371.40,344.66 L372.06,344.71 L372.72,344.76 L373.38,344.81 L374.04,344.85 L374.70,344.90 L375.36,344.95 L376.02,345.00 L376.68,345.04 L377.34,345.09 L378.00,345.14 L378.66,345.18 L379.32,345.23 L379.98,345.27 L380.64,345.32 L381.30,345.36 L381.96,345.40 L382.62,345.45 L383.28,345.49 L383.94,345.53 L384.60,345.57 L385.26,345.62 L385.92,345.66 L386.58,345.70 L387.24,345.74 L387.90,345.78 L388.56,345.82 L389.22,345.86 L389.88,345.90 L390.54,345.94 L391.20,345.98 L391.86,346.02 L392.52,346.06 L393.18,346.09 L393.84,346.13 L394.50,346.17 L395.16,346.20 L395.82,346.24 L396.48,346.28 L397.14,346.31 L397.80,346.35 L398.46,346.39 L399.13,346.42 L399.79,346.46 L400.45,346.49 L401.11,346.52 L401.77,346.56 L402.43,346.59 L403.09,346.62 L403.75,346.66 L404.41,346.69 L405.07,346.72 L405.73,346.76 L406.39,346.79 L407.05,346.82 L407.72,346.85 L408.38,346.88 L409.04,346.91 L409.70,346.94 L410.36,346.97 L411.02,347.00 L411.68,347.03 L412.34,347.06 L413.00,347.09 L413.66,347.12 L414.33,347.15 L414.99,347.18 L415.65,347.21 L416.31,347.24 L416.97,347.26 L417.63,347.29 L418.29,347.32 L418.95,347.35 L419.61,347.37 L420.28,347.40 L420.94,347.43 L421.60,347.45 L422.26,347.48 L422.92,347.51 L423.58,347.53 L424.24,347.56 L424.90,347.58 L425.57,347.61 L426.23,347.63 L426.89,347.66 L427.55,347.68 L428.21,347.71 L428.87,347.73 L429.53,347.75 L430.19,347.78 L430.86,347.80 L431.52,347.82 L432.18,347.85 L432.84,347.87 L433.50,347.89 L434.16,347.92 L434.82,347.94 L435.48,347.96 L436.15,347.98 L436.81,348.01 L437.47,348.03 L438.13,348.05 L438.79,348.07 L439.45,348.09 L440.11,348.11 L440.78,348.13 L441.44,348.15 L442.10,348.18 L442.76,348.20 L443.42,348.22 L444.08,348.24 L444.74,348.26 L445.40,348.28 L446.07,348.30 L446.73,348.32 L447.39,348.34 L448.05,348.36 L448.71,348.38 L449.37,348.40 L450.03,348.41 L450.70,348.43 L451.36,348.45 L452.02,348.47 L452.68,348.49 L453.34,348.51 L454.00,348.53 L454.66,348.55 L455.32,348.56 L455.99,348.58 L456.65,348.60 L457.31,348.62 L457.97,348.64 L458.63,348.65 L459.29,348.67 L459.95,348.69 L460.61,348.71 L461.28,348.73 L461.94,348.74 L462.60,348.76 L463.26,348.78 L463.92,348.80 L464.58,348.81 L465.24,348.83 L465.90,348.85 L466.56,348.86 L467.23,348.88 L467.89,348.90 L468.55,348.91 L469.21,348.93 L469.87,348.95 L470.53,348.97 L471.19,348.98 L471.85,349.00 L472.51,349.02 L473.17,349.03 L473.84,349.05 L474.50,349.07 L475.16,349.08 L475.82,349.10 L476.48,349.11 L477.14,349.13 L477.80,349.15 L478.46,349.16 L479.12,349.18 L479.78,349.20 L480.44,349.21 L481.10,349.23 L481.76,349.25 L482.43,349.26 L483.09,349.28 L483.75,349.30 L484.41,349.31 L485.07,349.33 L485.73,349.35 L486.39,349.36 L487.05,349.38 L487.71,349.39 L488.37,349.41 L489.03,349.43 L489.69,349.44 L490.35,349.46 L491.01,349.48 L491.67,349.49 L492.33,349.51 L492.99,349.53" fill="none" stroke="#0000ff" stroke-width="1.9" stroke-linejoin="round" stroke-dasharray="1.8 2.1"/>
<path d="M87.68,233.79 L87.79,233.09 L87.89,232.40 L87.99,231.70 L88.08,231.01 L88.17,230.31 L88.26,229.61 L88.35,228.92 L88.43,228.22 L88.51,227.52 L88.59,226.82 L88.67,226.12 L88.74,225.43 L88.81,224.73 L88.88,224.03 L88.95,223.33 L89.01,222.63 L89.08,221.93 L89.14,221.23 L89.21,220.53 L89.27,219.84 L89.33,219.14 L89.39,218.44 L89.45,217.74 L89.51,217.04 L89.57,216.34 L89.63,215.64 L89.69,214.94 L89.75,214.25 L89.82,213.55 L89.88,212.85 L89.94,212.15 L90.01,211.45 L90.07,210.76 L90.14,210.06 L90.21,209.36 L90.28,208.67 L90.35,207.97 L90.43,207.28 L90.50,206.58 L90.58,205.89 L90.66,205.19 L90.75,204.50 L90.83,203.80 L90.92,203.11 L91.02,202.42 L91.11,201.73 L91.21,201.03 L91.32,200.34 L91.43,199.65 L91.54,198.96 L91.65,198.27 L91.77,197.58 L91.90,196.90 L92.03,196.21 L92.16,195.52 L92.30,194.84 L92.45,194.15 L92.60,193.47 L92.75,192.78 L92.91,192.10 L93.08,191.42 L93.25,190.74 L93.43,190.06 L93.61,189.38 L93.80,188.70 L94.00,188.02 L94.21,187.35 L94.42,186.67 L94.64,186.00 L94.86,185.32 L95.10,184.65 L95.34,183.98 L95.58,183.31 L95.84,182.64 L96.11,181.97 L96.38,181.30 L96.66,180.64 L96.95,179.97 L97.25,179.31 L97.56,178.65 L97.88,178.00 L98.21,177.36 L98.56,176.74 L98.93,176.14 L99.32,175.57 L99.73,175.02 L100.17,174.52 L100.63,174.05 L101.13,173.63 L101.66,173.26 L102.22,172.95 L102.81,172.69 L103.44,172.50 L104.10,172.37 L104.77,172.32 L105.45,172.35 L106.12,172.46 L106.78,172.64 L107.43,172.90 L108.06,173.21 L108.68,173.58 L109.28,173.98 L109.88,174.43 L110.45,174.89 L111.02,175.37 L111.57,175.86 L112.10,176.35 L112.63,176.85 L113.14,177.36 L113.63,177.87 L114.12,178.39 L114.59,178.91 L115.06,179.44 L115.51,179.97 L115.96,180.51 L116.40,181.05 L116.83,181.60 L117.25,182.15 L117.67,182.71 L118.08,183.27 L118.49,183.83 L118.89,184.40 L119.29,184.97 L119.68,185.54 L120.07,186.12 L120.46,186.70 L120.85,187.28 L121.23,187.87 L121.62,188.46 L122.00,189.05 L122.38,189.64 L122.76,190.24 L123.14,190.83 L123.51,191.43 L123.89,192.03 L124.26,192.63 L124.63,193.23 L125.00,193.83 L125.37,194.44 L125.74,195.04 L126.11,195.64 L126.48,196.24 L126.85,196.85 L127.22,197.45 L127.58,198.05 L127.95,198.65 L128.32,199.26 L128.68,199.86 L129.05,200.46 L129.41,201.06 L129.78,201.66 L130.14,202.26 L130.51,202.86 L130.87,203.46 L131.24,204.06 L131.60,204.66 L131.96,205.26 L132.33,205.86 L132.69,206.46 L133.05,207.06 L133.42,207.66 L133.78,208.25 L134.14,208.85 L134.51,209.45 L134.87,210.05 L135.23,210.64 L135.60,211.24 L135.96,211.84 L136.32,212.43 L136.69,213.03 L137.05,213.62 L137.41,214.22 L137.78,214.82 L138.14,215.41 L138.50,216.00 L138.87,216.60 L139.23,217.19 L139.60,217.79 L139.96,218.38 L140.33,218.97 L140.70,219.57 L141.06,220.16 L141.43,220.75 L141.80,221.34 L142.16,221.93 L142.53,222.53 L142.90,223.12 L143.27,223.71 L143.64,224.30 L144.01,224.89 L144.38,225.48 L144.75,226.07 L145.13,226.66 L145.50,227.25 L145.87,227.83 L146.25,228.42 L146.62,229.01 L147.00,229.60 L147.37,230.18 L147.75,230.77 L148.13,231.36 L148.51,231.94 L148.89,232.53 L149.27,233.11 L149.65,233.70 L150.03,234.28 L150.42,234.87 L150.80,235.45 L151.19,236.04 L151.57,236.62 L151.96,237.20 L152.35,237.79 L152.74,238.37 L153.13,238.95 L153.52,239.53 L153.91,240.11 L154.31,240.69 L154.70,241.27 L155.10,241.85 L155.50,242.43 L155.89,243.01 L156.29,243.59 L156.69,244.17 L157.10,244.74 L157.50,245.32 L157.90,245.90 L158.31,246.47 L158.72,247.05 L159.13,247.62 L159.53,248.19 L159.95,248.77 L160.36,249.34 L160.77,249.91 L161.18,250.48 L161.60,251.05 L162.02,251.62 L162.44,252.18 L162.85,252.75 L163.28,253.32 L163.70,253.88 L164.12,254.45 L164.55,255.01 L164.97,255.57 L165.40,256.13 L165.83,256.69 L166.26,257.25 L166.69,257.81 L167.12,258.37 L167.56,258.93 L167.99,259.48 L168.43,260.04 L168.87,260.59 L169.31,261.14 L169.75,261.69 L170.19,262.24 L170.64,262.79 L171.08,263.34 L171.53,263.88 L171.98,264.43 L172.43,264.97 L172.88,265.51 L173.33,266.05 L173.79,266.59 L174.24,267.13 L174.70,267.66 L175.16,268.20 L175.62,268.73 L176.08,269.26 L176.54,269.79 L177.01,270.32 L177.48,270.85 L177.94,271.38 L178.41,271.90 L178.89,272.42 L179.36,272.94 L179.83,273.46 L180.31,273.98 L180.79,274.50 L181.27,275.01 L181.75,275.53 L182.23,276.04 L182.72,276.55 L183.20,277.05 L183.69,277.56 L184.18,278.06 L184.67,278.57 L185.16,279.07 L185.66,279.57 L186.15,280.06 L186.65,280.56 L187.15,281.05 L187.65,281.54 L188.15,282.03 L188.66,282.52 L189.17,283.00 L189.67,283.48 L190.18,283.96 L190.70,284.44 L191.21,284.92 L191.72,285.39 L192.24,285.87 L192.76,286.34 L193.28,286.80 L193.80,287.27 L194.33,287.73 L194.85,288.20 L195.38,288.66 L195.91,289.11 L196.44,289.57 L196.98,290.02 L197.51,290.47 L198.05,290.92 L198.59,291.37 L199.13,291.81 L199.67,292.25 L200.21,292.69 L200.76,293.13 L201.30,293.57 L201.85,294.00 L202.40,294.43 L202.95,294.86 L203.51,295.29 L204.06,295.71 L204.62,296.14 L205.18,296.56 L205.74,296.98 L206.30,297.39 L206.86,297.81 L207.43,298.22 L207.99,298.63 L208.56,299.04 L209.13,299.45 L209.70,299.85 L210.27,300.25 L210.84,300.65 L211.42,301.05 L212.00,301.44 L212.57,301.84 L213.15,302.23 L213.73,302.62 L214.32,303.01 L214.90,303.39 L215.49,303.77 L216.07,304.15 L216.66,304.53 L217.25,304.91 L217.84,305.28 L218.43,305.66 L219.02,306.03 L219.62,306.40 L220.22,306.76 L220.81,307.13 L221.41,307.49 L222.01,307.85 L222.61,308.21 L223.22,308.56 L223.82,308.92 L224.42,309.27 L225.03,309.62 L225.64,309.97 L226.25,310.31 L226.86,310.65 L227.47,311.00 L228.08,311.34 L228.70,311.67 L229.31,312.01 L229.93,312.34 L230.54,312.67 L231.16,313.00 L231.78,313.33 L232.40,313.65 L233.02,313.98 L233.65,314.30 L234.27,314.62 L234.90,314.93 L235.52,315.25 L236.15,315.56 L236.78,315.87 L237.41,316.18 L238.04,316.49 L238.67,316.79 L239.30,317.09 L239.94,317.39 L240.57,317.69 L241.21,317.99 L241.84,318.28 L242.48,318.58 L243.12,318.87 L243.76,319.16 L244.40,319.44 L245.04,319.73 L245.68,320.01 L246.33,320.29 L246.97,320.57 L247.62,320.85 L248.26,321.12 L248.91,321.39 L249.56,321.66 L250.20,321.93 L250.85,322.20 L251.50,322.46 L252.16,322.72 L252.81,322.99 L253.46,323.24 L254.11,323.50 L254.77,323.75 L255.42,324.01 L256.08,324.26 L256.74,324.51 L257.39,324.75 L258.05,325.00 L258.71,325.24 L259.37,325.48 L260.03,325.72 L260.69,325.96 L261.35,326.19 L262.02,326.42 L262.68,326.66 L263.34,326.88 L264.01,327.11 L264.67,327.34 L265.34,327.56 L266.00,327.78 L266.67,328.00 L267.34,328.22 L268.01,328.43 L268.67,328.65 L269.34,328.86 L270.01,329.07 L270.68,329.27 L271.35,329.48 L272.03,329.68 L272.70,329.89 L273.37,330.08 L274.04,330.28 L274.72,330.48 L275.39,330.67 L276.07,330.86 L276.74,331.05 L277.42,331.24 L278.09,331.43 L278.77,331.61 L279.44,331.80 L280.12,331.98 L280.80,332.16 L281.48,332.33 L282.16,332.51 L282.84,332.68 L283.52,332.86 L284.20,333.03 L284.88,333.19 L285.56,333.36 L286.24,333.53 L286.92,333.69 L287.60,333.85 L288.28,334.01 L288.97,334.17 L289.65,334.33 L290.33,334.48 L291.02,334.64 L291.70,334.79 L292.39,334.94 L293.07,335.09 L293.76,335.23 L294.44,335.38 L295.13,335.52 L295.82,335.67 L296.50,335.81 L297.19,335.95 L297.88,336.09 L298.56,336.22 L299.25,336.36 L299.94,336.49 L300.63,336.63 L301.32,336.76 L302.01,336.89 L302.70,337.01 L303.39,337.14 L304.08,337.27 L304.77,337.39 L305.46,337.51 L306.15,337.63 L306.84,337.76 L307.54,337.87 L308.23,337.99 L308.92,338.11 L309.61,338.22 L310.31,338.34 L311.00,338.45 L311.69,338.56 L312.39,338.67 L313.08,338.78 L313.77,338.89 L314.47,339.00 L315.16,339.10 L315.86,339.21 L316.55,339.31 L317.25,339.41 L317.94,339.51 L318.64,339.61 L319.33,339.71 L320.03,339.81 L320.72,339.91 L321.42,340.00 L322.12,340.10 L322.81,340.19 L323.51,340.28 L324.21,340.37 L324.90,340.47 L325.60,340.56 L326.30,340.64 L327.00,340.73 L327.69,340.82 L328.39,340.91 L329.09,340.99 L329.79,341.08 L330.49,341.16 L331.18,341.24 L331.88,341.32 L332.58,341.41 L333.28,341.49 L333.98,341.57 L334.68,341.64 L335.38,341.72 L336.07,341.80 L336.77,341.88 L337.47,341.95 L338.17,342.03 L338.87,342.10 L339.57,342.17 L340.27,342.25 L340.97,342.32 L341.67,342.39 L342.37,342.46 L343.07,342.53 L343.77,342.60 L344.47,342.67 L345.16,342.74 L345.86,342.81 L346.56,342.88 L347.26,342.94 L347.96,343.01 L348.66,343.08 L349.36,343.14 L350.06,343.21 L350.76,343.27 L351.46,343.33 L352.16,343.40 L352.86,343.46 L353.56,343.52 L354.26,343.58 L354.96,343.65 L355.66,343.71 L356.36,343.77 L357.06,343.83 L357.75,343.89 L358.45,343.95 L359.15,344.00 L359.85,344.06 L360.55,344.12 L361.25,344.18 L361.95,344.23 L362.65,344.29 L363.35,344.34 L364.05,344.40 L364.75,344.45 L365.45,344.51 L366.15,344.56 L366.85,344.62 L367.55,344.67 L368.25,344.72 L368.95,344.77 L369.65,344.82 L370.35,344.87 L371.05,344.93 L371.75,344.98 L372.44,345.03 L373.14,345.07 L373.84,345.12 L374.54,345.17 L375.24,345.22 L375.94,345.27 L376.64,345.31 L377.34,345.36 L378.04,345.41 L378.74,345.45 L379.44,345.50 L380.14,345.54 L380.84,345.59 L381.54,345.63 L382.24,345.68 L382.94,345.72 L383.64,345.76 L384.34,345.81 L385.04,345.85 L385.74,345.89 L386.44,345.93 L387.14,345.97 L387.84,346.02 L388.54,346.06 L389.24,346.10 L389.94,346.14 L390.64,346.18 L391.34,346.22 L392.03,346.25 L392.73,346.29 L393.43,346.33 L394.13,346.37 L394.83,346.41 L395.53,346.44 L396.23,346.48 L396.93,346.52 L397.63,346.55 L398.33,346.59 L399.03,346.62 L399.73,346.66 L400.43,346.69 L401.13,346.73 L401.83,346.76 L402.53,346.80 L403.23,346.83 L403.93,346.86 L404.63,346.90 L405.33,346.93 L406.03,346.96 L406.73,346.99 L407.43,347.03 L408.13,347.06 L408.83,347.09 L409.53,347.12 L410.23,347.15 L410.93,347.18 L411.63,347.21 L412.33,347.24 L413.03,347.27 L413.73,347.30 L414.43,347.33 L415.13,347.36 L415.83,347.39 L416.53,347.41 L417.23,347.44 L417.94,347.47 L418.64,347.50 L419.34,347.52 L420.04,347.55 L420.74,347.58 L421.44,347.61 L422.14,347.63 L422.84,347.66 L423.54,347.68 L424.24,347.71 L424.94,347.73 L425.64,347.76 L426.34,347.79 L427.04,347.81 L427.74,347.83 L428.44,347.86 L429.14,347.88 L429.84,347.91 L430.54,347.93 L431.24,347.96 L431.94,347.98 L432.65,348.00 L433.35,348.02 L434.05,348.05 L434.75,348.07 L435.45,348.09 L436.15,348.12 L436.85,348.14 L437.55,348.16 L438.25,348.18 L438.95,348.20 L439.65,348.23 L440.35,348.25 L441.05,348.27 L441.76,348.29 L442.46,348.31 L443.16,348.33 L443.86,348.35 L444.56,348.37 L445.26,348.39 L445.96,348.41 L446.66,348.43 L447.36,348.45 L448.07,348.47 L448.77,348.49 L449.47,348.51 L450.17,348.53 L450.87,348.55 L451.57,348.57 L452.27,348.59 L452.97,348.61 L453.68,348.63 L454.38,348.65 L455.08,348.67 L455.78,348.68 L456.48,348.70 L457.18,348.72 L457.88,348.74 L458.59,348.76 L459.29,348.78 L459.99,348.79 L460.69,348.81 L461.39,348.83 L462.09,348.85 L462.80,348.87 L463.50,348.88 L464.20,348.90 L464.90,348.92 L465.60,348.94 L466.30,348.95 L467.01,348.97 L467.71,348.99 L468.41,349.01 L469.11,349.02 L469.81,349.04 L470.52,349.06 L471.22,349.08 L471.92,349.09 L472.62,349.11 L473.33,349.13 L474.03,349.15 L474.73,349.16 L475.43,349.18 L476.13,349.20 L476.84,349.21 L477.54,349.23 L478.24,349.25 L478.94,349.27 L479.65,349.28 L480.35,349.30 L481.05,349.32 L481.75,349.33 L482.46,349.35 L483.16,349.37 L483.86,349.39 L484.56,349.40 L485.27,349.42 L485.97,349.44 L486.67,349.46 L487.38,349.47 L488.08,349.49 L488.78,349.51 L489.48,349.53 L490.19,349.54 L490.89,349.56 L491.59,349.58 L492.30,349.60 L493.00,349.61" fill="none" stroke="#008080" stroke-width="1.9" stroke-linejoin="round" stroke-dasharray="6.25 2.08 1.67 2.08"/>
<path d="M88.20,272.18 L88.21,271.47 L88.23,270.75 L88.25,270.04 L88.28,269.32 L88.31,268.61 L88.34,267.89 L88.38,267.17 L88.41,266.45 L88.46,265.73 L88.50,265.01 L88.55,264.28 L88.60,263.56 L88.65,262.84 L88.71,262.11 L88.76,261.38 L88.82,260.66 L88.89,259.93 L88.95,259.20 L89.02,258.47 L89.09,257.74 L89.16,257.01 L89.23,256.28 L89.31,255.55 L89.38,254.82 L89.46,254.09 L89.54,253.36 L89.62,252.63 L89.71,251.89 L89.79,251.16 L89.87,250.43 L89.96,249.70 L90.05,248.97 L90.14,248.23 L90.23,247.50 L90.32,246.77 L90.41,246.04 L90.50,245.31 L90.59,244.58 L90.68,243.85 L90.78,243.12 L90.87,242.39 L90.96,241.66 L91.06,240.93 L91.15,240.21 L91.24,239.48 L91.34,238.75 L91.43,238.03 L91.53,237.30 L91.62,236.58 L91.71,235.86 L91.80,235.14 L91.89,234.42 L91.98,233.70 L92.07,232.98 L92.16,232.26 L92.25,231.54 L92.34,230.83 L92.42,230.12 L92.51,229.40 L92.60,228.69 L92.68,227.98 L92.77,227.27 L92.85,226.56 L92.94,225.85 L93.02,225.14 L93.11,224.44 L93.20,223.73 L93.29,223.02 L93.38,222.31 L93.47,221.61 L93.56,220.90 L93.66,220.19 L93.76,219.49 L93.86,218.78 L93.96,218.08 L94.06,217.37 L94.17,216.66 L94.28,215.95 L94.39,215.24 L94.51,214.54 L94.63,213.83 L94.76,213.12 L94.88,212.40 L95.02,211.69 L95.15,210.98 L95.29,210.26 L95.44,209.55 L95.59,208.83 L95.74,208.11 L95.91,207.39 L96.07,206.67 L96.24,205.95 L96.42,205.23 L96.60,204.50 L96.79,203.77 L96.99,203.04 L97.19,202.31 L97.40,201.58 L97.61,200.84 L97.84,200.11 L98.07,199.37 L98.30,198.62 L98.55,197.88 L98.80,197.13 L99.06,196.38 L99.33,195.63 L99.61,194.87 L99.90,194.12 L100.19,193.36 L100.49,192.60 L100.81,191.85 L101.13,191.10 L101.46,190.36 L101.80,189.62 L102.15,188.90 L102.51,188.20 L102.89,187.51 L103.27,186.84 L103.66,186.19 L104.06,185.56 L104.48,184.95 L104.90,184.38 L105.34,183.83 L105.79,183.31 L106.25,182.83 L106.72,182.38 L107.21,181.97 L107.70,181.59 L108.21,181.26 L108.74,180.98 L109.27,180.74 L109.82,180.54 L110.38,180.40 L110.96,180.31 L111.55,180.27 L112.15,180.29 L112.76,180.37 L113.39,180.50 L114.03,180.69 L114.68,180.92 L115.32,181.19 L115.98,181.50 L116.62,181.84 L117.27,182.20 L117.91,182.59 L118.54,183.00 L119.16,183.43 L119.76,183.86 L120.36,184.30 L120.94,184.76 L121.51,185.22 L122.07,185.70 L122.62,186.19 L123.16,186.68 L123.69,187.18 L124.21,187.70 L124.71,188.22 L125.21,188.75 L125.71,189.29 L126.19,189.83 L126.66,190.38 L127.13,190.94 L127.59,191.51 L128.05,192.08 L128.49,192.66 L128.93,193.24 L129.37,193.83 L129.80,194.43 L130.22,195.03 L130.64,195.63 L131.05,196.24 L131.46,196.85 L131.87,197.46 L132.27,198.08 L132.67,198.70 L133.06,199.32 L133.46,199.95 L133.85,200.58 L134.24,201.20 L134.62,201.83 L135.01,202.46 L135.40,203.09 L135.78,203.73 L136.17,204.36 L136.55,204.99 L136.94,205.62 L137.32,206.25 L137.71,206.88 L138.09,207.51 L138.48,208.14 L138.87,208.77 L139.25,209.39 L139.64,210.02 L140.03,210.65 L140.42,211.28 L140.80,211.90 L141.19,212.53 L141.58,213.15 L141.97,213.78 L142.36,214.40 L142.75,215.03 L143.14,215.65 L143.53,216.27 L143.92,216.90 L144.31,217.52 L144.70,218.14 L145.09,218.76 L145.49,219.38 L145.88,220.00 L146.27,220.62 L146.67,221.24 L147.06,221.86 L147.46,222.48 L147.85,223.09 L148.25,223.71 L148.65,224.33 L149.04,224.94 L149.44,225.56 L149.84,226.17 L150.24,226.78 L150.64,227.40 L151.04,228.01 L151.44,228.62 L151.84,229.23 L152.24,229.84 L152.64,230.45 L153.05,231.06 L153.45,231.67 L153.86,232.28 L154.26,232.88 L154.67,233.49 L155.07,234.10 L155.48,234.70 L155.89,235.30 L156.30,235.91 L156.71,236.51 L157.12,237.11 L157.53,237.71 L157.94,238.31 L158.36,238.91 L158.77,239.51 L159.18,240.11 L159.60,240.71 L160.02,241.30 L160.43,241.90 L160.85,242.49 L161.27,243.09 L161.69,243.68 L162.11,244.27 L162.54,244.86 L162.96,245.45 L163.38,246.04 L163.81,246.63 L164.23,247.22 L164.66,247.81 L165.09,248.39 L165.52,248.98 L165.95,249.56 L166.38,250.15 L166.81,250.73 L167.24,251.31 L167.68,251.89 L168.11,252.47 L168.55,253.05 L168.99,253.63 L169.43,254.20 L169.87,254.78 L170.31,255.35 L170.75,255.93 L171.19,256.50 L171.64,257.07 L172.08,257.64 L172.53,258.21 L172.98,258.78 L173.43,259.35 L173.88,259.92 L174.33,260.48 L174.79,261.05 L175.24,261.61 L175.70,262.17 L176.15,262.73 L176.61,263.29 L177.07,263.85 L177.53,264.41 L178.00,264.97 L178.46,265.52 L178.93,266.08 L179.39,266.63 L179.86,267.19 L180.33,267.74 L180.80,268.29 L181.27,268.84 L181.75,269.38 L182.22,269.93 L182.70,270.48 L183.18,271.02 L183.66,271.56 L184.14,272.11 L184.62,272.65 L185.11,273.19 L185.59,273.73 L186.08,274.26 L186.57,274.80 L187.06,275.33 L187.55,275.87 L188.05,276.40 L188.54,276.93 L189.04,277.46 L189.54,277.99 L190.04,278.52 L190.54,279.04 L191.04,279.57 L191.55,280.09 L192.06,280.61 L192.57,281.13 L193.08,281.65 L193.59,282.17 L194.10,282.68 L194.62,283.20 L195.14,283.71 L195.66,284.22 L196.18,284.73 L196.70,285.24 L197.23,285.75 L197.75,286.25 L198.28,286.75 L198.81,287.25 L199.34,287.75 L199.88,288.25 L200.41,288.75 L200.95,289.24 L201.49,289.73 L202.03,290.22 L202.57,290.71 L203.12,291.19 L203.67,291.68 L204.21,292.16 L204.76,292.64 L205.32,293.11 L205.87,293.59 L206.43,294.06 L206.99,294.53 L207.55,295.00 L208.11,295.46 L208.68,295.93 L209.24,296.39 L209.81,296.85 L210.38,297.30 L210.95,297.75 L211.53,298.21 L212.10,298.65 L212.68,299.10 L213.26,299.54 L213.85,299.98 L214.43,300.42 L215.02,300.85 L215.61,301.28 L216.20,301.71 L216.79,302.14 L217.39,302.56 L217.99,302.98 L218.59,303.40 L219.19,303.81 L219.79,304.22 L220.40,304.63 L221.01,305.04 L221.62,305.44 L222.23,305.84 L222.84,306.23 L223.46,306.62 L224.08,307.01 L224.70,307.40 L225.32,307.78 L225.95,308.17 L226.57,308.54 L227.20,308.92 L227.83,309.29 L228.46,309.66 L229.10,310.03 L229.73,310.39 L230.37,310.75 L231.01,311.11 L231.65,311.47 L232.29,311.82 L232.93,312.17 L233.58,312.52 L234.22,312.86 L234.87,313.20 L235.52,313.54 L236.17,313.88 L236.82,314.22 L237.48,314.55 L238.13,314.88 L238.79,315.20 L239.44,315.53 L240.10,315.85 L240.76,316.17 L241.42,316.49 L242.08,316.80 L242.75,317.11 L243.41,317.42 L244.08,317.73 L244.74,318.03 L245.41,318.34 L246.08,318.64 L246.74,318.93 L247.41,319.23 L248.09,319.52 L248.76,319.82 L249.43,320.10 L250.10,320.39 L250.78,320.68 L251.45,320.96 L252.12,321.24 L252.80,321.52 L253.48,321.79 L254.15,322.07 L254.83,322.34 L255.51,322.61 L256.19,322.88 L256.87,323.14 L257.55,323.41 L258.23,323.67 L258.91,323.93 L259.59,324.18 L260.27,324.44 L260.95,324.69 L261.64,324.95 L262.32,325.19 L263.00,325.44 L263.69,325.69 L264.37,325.93 L265.06,326.17 L265.75,326.41 L266.43,326.65 L267.12,326.89 L267.81,327.12 L268.50,327.35 L269.19,327.58 L269.88,327.81 L270.57,328.04 L271.26,328.26 L271.95,328.48 L272.64,328.71 L273.33,328.92 L274.03,329.14 L274.72,329.36 L275.41,329.57 L276.11,329.78 L276.80,329.99 L277.50,330.20 L278.19,330.41 L278.89,330.61 L279.59,330.81 L280.28,331.01 L280.98,331.21 L281.68,331.41 L282.38,331.61 L283.08,331.80 L283.78,331.99 L284.48,332.18 L285.18,332.37 L285.88,332.56 L286.58,332.75 L287.28,332.93 L287.98,333.11 L288.68,333.29 L289.39,333.47 L290.09,333.65 L290.79,333.82 L291.50,334.00 L292.20,334.17 L292.91,334.34 L293.61,334.51 L294.32,334.68 L295.02,334.84 L295.73,335.01 L296.44,335.17 L297.15,335.33 L297.85,335.49 L298.56,335.65 L299.27,335.81 L299.98,335.96 L300.69,336.12 L301.40,336.27 L302.11,336.42 L302.82,336.57 L303.53,336.72 L304.24,336.87 L304.95,337.01 L305.66,337.16 L306.37,337.30 L307.09,337.44 L307.80,337.58 L308.51,337.72 L309.23,337.85 L309.94,337.99 L310.65,338.12 L311.37,338.26 L312.08,338.39 L312.80,338.52 L313.51,338.64 L314.23,338.77 L314.94,338.90 L315.66,339.02 L316.38,339.15 L317.09,339.27 L317.81,339.39 L318.53,339.51 L319.25,339.63 L319.96,339.74 L320.68,339.86 L321.40,339.97 L322.12,340.09 L322.84,340.20 L323.56,340.31 L324.28,340.42 L325.00,340.53 L325.72,340.64 L326.44,340.74 L327.16,340.85 L327.88,340.95 L328.60,341.05 L329.32,341.15 L330.04,341.25 L330.76,341.35 L331.48,341.45 L332.21,341.55 L332.93,341.65 L333.65,341.74 L334.37,341.83 L335.10,341.93 L335.82,342.02 L336.54,342.11 L337.27,342.20 L337.99,342.29 L338.71,342.38 L339.44,342.46 L340.16,342.55 L340.89,342.63 L341.61,342.72 L342.34,342.80 L343.06,342.88 L343.79,342.96 L344.51,343.04 L345.24,343.12 L345.96,343.20 L346.69,343.27 L347.41,343.35 L348.14,343.42 L348.86,343.50 L349.59,343.57 L350.32,343.64 L351.04,343.72 L351.77,343.79 L352.50,343.86 L353.22,343.93 L353.95,343.99 L354.68,344.06 L355.41,344.13 L356.13,344.19 L356.86,344.26 L357.59,344.32 L358.31,344.39 L359.04,344.45 L359.77,344.51 L360.50,344.57 L361.23,344.63 L361.95,344.69 L362.68,344.75 L363.41,344.81 L364.14,344.87 L364.87,344.92 L365.59,344.98 L366.32,345.04 L367.05,345.09 L367.78,345.15 L368.51,345.20 L369.24,345.25 L369.97,345.30 L370.69,345.36 L371.42,345.41 L372.15,345.46 L372.88,345.51 L373.61,345.56 L374.34,345.60 L375.07,345.65 L375.79,345.70 L376.52,345.75 L377.25,345.79 L377.98,345.84 L378.71,345.88 L379.44,345.93 L380.17,345.97 L380.90,346.02 L381.62,346.06 L382.35,346.10 L383.08,346.15 L383.81,346.19 L384.54,346.23 L385.27,346.27 L386.00,346.31 L386.72,346.35 L387.45,346.39 L388.18,346.43 L388.91,346.47 L389.64,346.51 L390.37,346.55 L391.09,346.58 L391.82,346.62 L392.55,346.66 L393.28,346.70 L394.01,346.73 L394.73,346.77 L395.46,346.80 L396.19,346.84 L396.92,346.87 L397.64,346.91 L398.37,346.94 L399.10,346.98 L399.83,347.01 L400.55,347.04 L401.28,347.08 L402.01,347.11 L402.74,347.14 L403.46,347.17 L404.19,347.21 L404.92,347.24 L405.64,347.27 L406.37,347.30 L407.10,347.33 L407.82,347.36 L408.55,347.39 L409.28,347.42 L410.00,347.45 L410.73,347.48 L411.46,347.51 L412.18,347.54 L412.91,347.57 L413.64,347.59 L414.36,347.62 L415.09,347.65 L415.82,347.68 L416.54,347.70 L417.27,347.73 L418.00,347.76 L418.72,347.78 L419.45,347.81 L420.18,347.84 L420.90,347.86 L421.63,347.89 L422.35,347.91 L423.08,347.94 L423.81,347.96 L424.53,347.99 L425.26,348.01 L425.99,348.03 L426.71,348.06 L427.44,348.08 L428.17,348.10 L428.89,348.13 L429.62,348.15 L430.34,348.17 L431.07,348.20 L431.80,348.22 L432.52,348.24 L433.25,348.26 L433.98,348.28 L434.70,348.31 L435.43,348.33 L436.15,348.35 L436.88,348.37 L437.61,348.39 L438.33,348.41 L439.06,348.43 L439.79,348.45 L440.51,348.47 L441.24,348.49 L441.97,348.51 L442.69,348.53 L443.42,348.55 L444.15,348.57 L444.87,348.59 L445.60,348.61 L446.33,348.63 L447.05,348.65 L447.78,348.67 L448.51,348.69 L449.23,348.71 L449.96,348.73 L450.69,348.74 L451.42,348.76 L452.14,348.78 L452.87,348.80 L453.60,348.82 L454.32,348.83 L455.05,348.85 L455.78,348.87 L456.51,348.89 L457.23,348.91 L457.96,348.92 L458.69,348.94 L459.42,348.96 L460.14,348.97 L460.87,348.99 L461.60,349.01 L462.33,349.03 L463.06,349.04 L463.78,349.06 L464.51,349.08 L465.24,349.09 L465.97,349.11 L466.70,349.13 L467.43,349.14 L468.15,349.16 L468.88,349.18 L469.61,349.19 L470.34,349.21 L471.07,349.23 L471.80,349.24 L472.53,349.26 L473.26,349.27 L473.99,349.29 L474.71,349.31 L475.44,349.32 L476.17,349.34 L476.90,349.36 L477.63,349.37 L478.36,349.39 L479.09,349.41 L479.82,349.42 L480.55,349.44 L481.28,349.45 L482.01,349.47 L482.74,349.49 L483.47,349.50 L484.21,349.52 L484.94,349.54 L485.67,349.55 L486.40,349.57 L487.13,349.59 L487.86,349.60 L488.59,349.62 L489.32,349.63 L490.05,349.65 L490.79,349.67 L491.52,349.69 L492.25,349.70 L492.98,349.72" fill="none" stroke="#ff8000" stroke-width="2.6" stroke-linejoin="round" stroke-dasharray="6.25 12.5"/>
</g>
<path d="M86.74,21.34 L92.46,27.07 M86.74,27.07 L92.46,21.34" fill="none" stroke="#000000" stroke-width="1.95"/>
<path d="M167.06,283.46 L172.79,289.19 M167.06,289.19 L172.79,283.46" fill="none" stroke="#000000" stroke-width="1.95"/>
<path d="M248.36,324.60 L254.09,330.33 M248.36,330.33 L254.09,324.60" fill="none" stroke="#000000" stroke-width="1.95"/>
<path d="M329.66,337.81 L335.39,343.54 M329.66,343.54 L335.39,337.81" fill="none" stroke="#000000" stroke-width="1.95"/>
<path d="M410.96,343.41 L416.69,349.14 M410.96,349.14 L416.69,343.41" fill="none" stroke="#000000" stroke-width="1.95"/>
<circle cx="95.13" cy="112.57" r="4.05" fill="none" stroke="#ff0000" stroke-width="1.95"/>
<circle cx="176.43" cy="285.01" r="4.05" fill="none" stroke="#ff0000" stroke-width="1.95"/>
<circle cx="257.73" cy="327.71" r="4.05" fill="none" stroke="#ff0000" stroke-width="1.95"/>
<circle cx="339.03" cy="341.27" r="4.05" fill="none" stroke="#ff0000" stroke-width="1.95"/>
<circle cx="420.33" cy="346.74" r="4.05" fill="none" stroke="#ff0000" stroke-width="1.95"/>
<rect x="99.21" y="155.99" width="8.10" height="8.10" fill="none" stroke="#0000ff" stroke-width="1.95"/>
<rect x="180.51" y="280.95" width="8.10" height="8.10" fill="none" stroke="#0000ff" stroke-width="1.95"/>
<rect x="261.81" y="324.23" width="8.10" height="8.10" fill="none" stroke="#0000ff" stroke-width="1.95"/>
<rect x="343.11" y="338.50" width="8.10" height="8.10" fill="none" stroke="#0000ff" stroke-width="1.95"/>
<rect x="424.41" y="343.66" width="8.10" height="8.10" fill="none" stroke="#0000ff" stroke-width="1.95"/>
<path d="M111.39,171.65 L114.43,175.70 L111.39,179.75 L108.35,175.70 Z" fill="none" stroke="#008080" stroke-width="1.95"/>
<path d="M192.69,282.22 L195.73,286.27 L192.69,290.32 L189.65,286.27 Z" fill="none" stroke="#008080" stroke-width="1.95"/>
<path d="M273.99,326.22 L277.03,330.27 L273.99,334.32 L270.95,330.27 Z" fill="none" stroke="#008080" stroke-width="1.95"/>
<path d="M355.29,339.63 L358.33,343.68 L355.29,347.73 L352.25,343.68 Z" fill="none" stroke="#008080" stroke-width="1.95"/>
<path d="M436.59,344.08 L439.63,348.13 L436.59,352.18 L433.55,348.13 Z" fill="none" stroke="#008080" stroke-width="1.95"/>
<path d="M119.52,179.88 L122.81,185.58 L116.23,185.58 Z" fill="none" stroke="#ff8000" stroke-width="1.8"/>
<path d="M200.82,285.32 L204.11,291.02 L197.53,291.02 Z" fill="none" stroke="#ff8000" stroke-width="1.8"/>
<path d="M282.12,327.73 L285.41,333.43 L278.83,333.43 Z" fill="none" stroke="#ff8000" stroke-width="1.8"/>
<path d="M363.42,341.01 L366.71,346.71 L360.13,346.71 Z" fill="none" stroke="#ff8000" stroke-width="1.8"/>
<path d="M444.72,344.79 L448.01,350.49 L441.43,350.49 Z" fill="none" stroke="#ff8000" stroke-width="1.8"/>
<rect x="87.0" y="13.6" width="406.5" height="337.79999999999995" fill="none" stroke="#000" stroke-width="0.83"/>
<g style="filter:grayscale(1)" fill="#000">
<text x="87.00" y="372.7" font-size="21" text-anchor="middle">0</text>
<text x="168.30" y="372.7" font-size="21" text-anchor="middle">1</text>
<text x="249.60" y="372.7" font-size="21" text-anchor="middle">2</text>
<text x="330.90" y="372.7" font-size="21" text-anchor="middle">3</text>
<text x="412.20" y="372.7" font-size="21" text-anchor="middle">4</text>
<text x="493.50" y="372.7" font-size="21" text-anchor="middle">5</text>
<text x="79.6" y="358.90" font-size="21" text-anchor="end">0</text>
<text x="79.6" y="246.30" font-size="21" text-anchor="end">0.5</text>
<text x="79.6" y="133.70" font-size="21" text-anchor="end">1</text>
<text x="79.6" y="21.10" font-size="21" text-anchor="end">1.5</text>
<text transform="translate(21.3,183.0) rotate(-90)" font-size="22" text-anchor="middle" textLength="43" lengthAdjust="spacingAndGlyphs">PDF</text>
<g fill="none" stroke="#000" stroke-linecap="round" stroke-linejoin="round"><path d="M285.3,393.5 C285.7,391.6 287.1,390.2 288.9,390.2 C290.9,390.2 292.1,393 292.3,397" stroke-width="1.15"/><path d="M295.5,390.2 L292.4,396.9 L291.0,402.6" stroke-width="0.7"/><path d="M292.3,397 L291.1,402.3" stroke-width="1.1"/></g>
</g>
<rect x="287.5" y="24.4" width="193.5" height="120.0" fill="#fff" stroke="#000" stroke-width="0.83"/>
<path d="M294.8,39.5 L330.4,39.5" fill="none" stroke="#000000" stroke-width="1.9"/>
<path d="M309.74,36.64 L315.46,42.36 M309.74,42.36 L315.46,36.64" fill="none" stroke="#000000" stroke-width="1.95"/>
<g style="filter:grayscale(1)" fill="#000">
<text x="336.00" y="44.50" font-size="17.5" textLength="7.40" lengthAdjust="spacingAndGlyphs">{</text>
<g transform="translate(0.00,0.00)" fill="none" stroke="#000" stroke-linecap="round" stroke-linejoin="round"><path d="M347.5,37.5 L345.9,43.2" stroke-width="1.15"/><path d="M346.8,40.7 C349,40.1 351,38.8 352.7,37.7" stroke-width="0.8"/><circle cx="352.6" cy="37.9" r="0.55" fill="#000" stroke="none"/><path d="M348.4,40.2 C350.2,40.5 350.2,43.2 351.8,43.2 C352.8,43.2 353.4,42.5 353.7,41.7" stroke-width="0.9"/></g>
<text x="354.30" y="43.60" font-size="13.2" textLength="4.00" lengthAdjust="spacingAndGlyphs">,</text>
<g transform="translate(17.40,0.00)" fill="none" stroke="#000" stroke-linecap="round" stroke-linejoin="round"><path d="M347.5,37.5 L345.9,43.2" stroke-width="1.15"/><path d="M346.8,40.7 C349,40.1 351,38.8 352.7,37.7" stroke-width="0.8"/><circle cx="352.6" cy="37.9" r="0.55" fill="#000" stroke="none"/><path d="M348.4,40.2 C350.2,40.5 350.2,43.2 351.8,43.2 C352.8,43.2 353.4,42.5 353.7,41.7" stroke-width="0.9"/></g>
<text x="372.30" y="44.50" font-size="17.5" textLength="7.40" lengthAdjust="spacingAndGlyphs">}</text>
<path d="M385.8,38.30 H397.0 M385.8,41.65 H397.0" fill="none" stroke="#000" stroke-width="0.8"/>
<text x="402.90" y="44.50" font-size="17.5" textLength="7.40" lengthAdjust="spacingAndGlyphs">{</text>
<text x="410.90" y="43.60" font-size="13.2" textLength="20.40" lengthAdjust="spacingAndGlyphs">0.8</text>
<text x="431.60" y="43.60" font-size="13.2" textLength="4.00" lengthAdjust="spacingAndGlyphs">,</text>
<text x="440.30" y="43.60" font-size="13.2" textLength="21.00" lengthAdjust="spacingAndGlyphs">0.5</text>
<text x="463.50" y="44.50" font-size="17.5" textLength="7.40" lengthAdjust="spacingAndGlyphs">}</text>
<path d="M364.3,34.9 L366.4,33.2 L368.5,34.9" fill="none" stroke="#000" stroke-width="0.9"/>
</g>
<path d="M294.8,62.05 L330.4,62.05" fill="none" stroke="#ff0000" stroke-width="1.9" stroke-dasharray="6.25 4.17"/>
<circle cx="312.60" cy="62.05" r="4.05" fill="none" stroke="#ff0000" stroke-width="1.95"/>
<g style="filter:grayscale(1)" fill="#000">
<text x="336.00" y="67.05" font-size="17.5" textLength="7.40" lengthAdjust="spacingAndGlyphs">{</text>
<g transform="translate(0.00,22.55)" fill="none" stroke="#000" stroke-linecap="round" stroke-linejoin="round"><path d="M347.5,37.5 L345.9,43.2" stroke-width="1.15"/><path d="M346.8,40.7 C349,40.1 351,38.8 352.7,37.7" stroke-width="0.8"/><circle cx="352.6" cy="37.9" r="0.55" fill="#000" stroke="none"/><path d="M348.4,40.2 C350.2,40.5 350.2,43.2 351.8,43.2 C352.8,43.2 353.4,42.5 353.7,41.7" stroke-width="0.9"/></g>
<text x="354.30" y="66.15" font-size="13.2" textLength="4.00" lengthAdjust="spacingAndGlyphs">,</text>
<g transform="translate(17.40,22.55)" fill="none" stroke="#000" stroke-linecap="round" stroke-linejoin="round"><path d="M347.5,37.5 L345.9,43.2" stroke-width="1.15"/><path d="M346.8,40.7 C349,40.1 351,38.8 352.7,37.7" stroke-width="0.8"/><circle cx="352.6" cy="37.9" r="0.55" fill="#000" stroke="none"/><path d="M348.4,40.2 C350.2,40.5 350.2,43.2 351.8,43.2 C352.8,43.2 353.4,42.5 353.7,41.7" stroke-width="0.9"/></g>
<text x="372.30" y="67.05" font-size="17.5" textLength="7.40" lengthAdjust="spacingAndGlyphs">}</text>
<path d="M385.8,60.85 H397.0 M385.8,64.20 H397.0" fill="none" stroke="#000" stroke-width="0.8"/>
<text x="402.90" y="67.05" font-size="17.5" textLength="7.40" lengthAdjust="spacingAndGlyphs">{</text>
<text x="410.90" y="66.15" font-size="13.2" textLength="20.40" lengthAdjust="spacingAndGlyphs">1.5</text>
<text x="431.60" y="66.15" font-size="13.2" textLength="4.00" lengthAdjust="spacingAndGlyphs">,</text>
<text x="440.30" y="66.15" font-size="13.2" textLength="7.60" lengthAdjust="spacingAndGlyphs">1</text>
<text x="450.10" y="67.05" font-size="17.5" textLength="7.40" lengthAdjust="spacingAndGlyphs">}</text>
<path d="M364.3,57.449999999999996 L366.4,55.75 L368.5,57.449999999999996" fill="none" stroke="#000" stroke-width="0.9"/>
</g>
<path d="M294.8,84.6 L330.4,84.6" fill="none" stroke="#0000ff" stroke-width="1.9" stroke-dasharray="1.8 2.1"/>
<rect x="308.55" y="80.55" width="8.10" height="8.10" fill="none" stroke="#0000ff" stroke-width="1.95"/>
<g style="filter:grayscale(1)" fill="#000">
<text x="336.00" y="89.60" font-size="17.5" textLength="7.40" lengthAdjust="spacingAndGlyphs">{</text>
<g transform="translate(0.00,45.10)" fill="none" stroke="#000" stroke-linecap="round" stroke-linejoin="round"><path d="M347.5,37.5 L345.9,43.2" stroke-width="1.15"/><path d="M346.8,40.7 C349,40.1 351,38.8 352.7,37.7" stroke-width="0.8"/><circle cx="352.6" cy="37.9" r="0.55" fill="#000" stroke="none"/><path d="M348.4,40.2 C350.2,40.5 350.2,43.2 351.8,43.2 C352.8,43.2 353.4,42.5 353.7,41.7" stroke-width="0.9"/></g>
<text x="354.30" y="88.70" font-size="13.2" textLength="4.00" lengthAdjust="spacingAndGlyphs">,</text>
<g transform="translate(17.40,45.10)" fill="none" stroke="#000" stroke-linecap="round" stroke-linejoin="round"><path d="M347.5,37.5 L345.9,43.2" stroke-width="1.15"/><path d="M346.8,40.7 C349,40.1 351,38.8 352.7,37.7" stroke-width="0.8"/><circle cx="352.6" cy="37.9" r="0.55" fill="#000" stroke="none"/><path d="M348.4,40.2 C350.2,40.5 350.2,43.2 351.8,43.2 C352.8,43.2 353.4,42.5 353.7,41.7" stroke-width="0.9"/></g>
<text x="372.30" y="89.60" font-size="17.5" textLength="7.40" lengthAdjust="spacingAndGlyphs">}</text>
<path d="M385.8,83.40 H397.0 M385.8,86.75 H397.0" fill="none" stroke="#000" stroke-width="0.8"/>
<text x="402.90" y="89.60" font-size="17.5" textLength="7.40" lengthAdjust="spacingAndGlyphs">{</text>
<text x="410.90" y="88.70" font-size="13.2" textLength="20.40" lengthAdjust="spacingAndGlyphs">1.8</text>
<text x="431.60" y="88.70" font-size="13.2" textLength="4.00" lengthAdjust="spacingAndGlyphs">,</text>
<text x="440.30" y="88.70" font-size="13.2" textLength="21.00" lengthAdjust="spacingAndGlyphs">3.2</text>
<text x="463.50" y="89.60" font-size="17.5" textLength="7.40" lengthAdjust="spacingAndGlyphs">}</text>
<path d="M364.3,80.0 L366.4,78.3 L368.5,80.0" fill="none" stroke="#000" stroke-width="0.9"/>
</g>
<path d="M294.8,107.15 L330.4,107.15" fill="none" stroke="#008080" stroke-width="1.9" stroke-dasharray="6.25 2.08 1.67 2.08"/>
<path d="M312.60,103.10 L315.64,107.15 L312.60,111.20 L309.56,107.15 Z" fill="none" stroke="#008080" stroke-width="1.95"/>
<g style="filter:grayscale(1)" fill="#000">
<text x="336.00" y="112.15" font-size="17.5" textLength="7.40" lengthAdjust="spacingAndGlyphs">{</text>
<g transform="translate(0.00,67.65)" fill="none" stroke="#000" stroke-linecap="round" stroke-linejoin="round"><path d="M347.5,37.5 L345.9,43.2" stroke-width="1.15"/><path d="M346.8,40.7 C349,40.1 351,38.8 352.7,37.7" stroke-width="0.8"/><circle cx="352.6" cy="37.9" r="0.55" fill="#000" stroke="none"/><path d="M348.4,40.2 C350.2,40.5 350.2,43.2 351.8,43.2 C352.8,43.2 353.4,42.5 353.7,41.7" stroke-width="0.9"/></g>
<text x="354.30" y="111.25" font-size="13.2" textLength="4.00" lengthAdjust="spacingAndGlyphs">,</text>
<g transform="translate(17.40,67.65)" fill="none" stroke="#000" stroke-linecap="round" stroke-linejoin="round"><path d="M347.5,37.5 L345.9,43.2" stroke-width="1.15"/><path d="M346.8,40.7 C349,40.1 351,38.8 352.7,37.7" stroke-width="0.8"/><circle cx="352.6" cy="37.9" r="0.55" fill="#000" stroke="none"/><path d="M348.4,40.2 C350.2,40.5 350.2,43.2 351.8,43.2 C352.8,43.2 353.4,42.5 353.7,41.7" stroke-width="0.9"/></g>
<text x="372.30" y="112.15" font-size="17.5" textLength="7.40" lengthAdjust="spacingAndGlyphs">}</text>
<path d="M385.8,105.95 H397.0 M385.8,109.30 H397.0" fill="none" stroke="#000" stroke-width="0.8"/>
<text x="402.90" y="112.15" font-size="17.5" textLength="7.40" lengthAdjust="spacingAndGlyphs">{</text>
<text x="410.90" y="111.25" font-size="13.2" textLength="20.40" lengthAdjust="spacingAndGlyphs">3.5</text>
<text x="431.60" y="111.25" font-size="13.2" textLength="4.00" lengthAdjust="spacingAndGlyphs">,</text>
<text x="440.30" y="111.25" font-size="13.2" textLength="7.60" lengthAdjust="spacingAndGlyphs">3</text>
<text x="450.10" y="112.15" font-size="17.5" textLength="7.40" lengthAdjust="spacingAndGlyphs">}</text>
<path d="M364.3,102.55000000000001 L366.4,100.85000000000001 L368.5,102.55000000000001" fill="none" stroke="#000" stroke-width="0.9"/>
</g>
<path d="M294.8,129.7 L330.4,129.7" fill="none" stroke="#ff8000" stroke-width="2.6" stroke-dasharray="6.25 12.5"/>
<path d="M312.60,125.90 L315.89,131.60 L309.31,131.60 Z" fill="none" stroke="#ff8000" stroke-width="1.8"/>
<g style="filter:grayscale(1)" fill="#000">
<text x="336.00" y="134.70" font-size="17.5" textLength="7.40" lengthAdjust="spacingAndGlyphs">{</text>
<g transform="translate(0.00,90.20)" fill="none" stroke="#000" stroke-linecap="round" stroke-linejoin="round"><path d="M347.5,37.5 L345.9,43.2" stroke-width="1.15"/><path d="M346.8,40.7 C349,40.1 351,38.8 352.7,37.7" stroke-width="0.8"/><circle cx="352.6" cy="37.9" r="0.55" fill="#000" stroke="none"/><path d="M348.4,40.2 C350.2,40.5 350.2,43.2 351.8,43.2 C352.8,43.2 353.4,42.5 353.7,41.7" stroke-width="0.9"/></g>
<text x="354.30" y="133.80" font-size="13.2" textLength="4.00" lengthAdjust="spacingAndGlyphs">,</text>
<g transform="translate(17.40,90.20)" fill="none" stroke="#000" stroke-linecap="round" stroke-linejoin="round"><path d="M347.5,37.5 L345.9,43.2" stroke-width="1.15"/><path d="M346.8,40.7 C349,40.1 351,38.8 352.7,37.7" stroke-width="0.8"/><circle cx="352.6" cy="37.9" r="0.55" fill="#000" stroke="none"/><path d="M348.4,40.2 C350.2,40.5 350.2,43.2 351.8,43.2 C352.8,43.2 353.4,42.5 353.7,41.7" stroke-width="0.9"/></g>
<text x="372.30" y="134.70" font-size="17.5" textLength="7.40" lengthAdjust="spacingAndGlyphs">}</text>
<path d="M385.8,128.50 H397.0 M385.8,131.85 H397.0" fill="none" stroke="#000" stroke-width="0.8"/>
<text x="402.90" y="134.70" font-size="17.5" textLength="7.40" lengthAdjust="spacingAndGlyphs">{</text>
<text x="410.90" y="133.80" font-size="13.2" textLength="20.40" lengthAdjust="spacingAndGlyphs">4.5</text>
<text x="431.60" y="133.80" font-size="13.2" textLength="4.00" lengthAdjust="spacingAndGlyphs">,</text>
<text x="440.30" y="133.80" font-size="13.2" textLength="21.00" lengthAdjust="spacingAndGlyphs">4.5</text>
<text x="463.50" y="134.70" font-size="17.5" textLength="7.40" lengthAdjust="spacingAndGlyphs">}</text>
<path d="M364.3,125.1 L366.4,123.39999999999999 L368.5,125.1" fill="none" stroke="#000" stroke-width="0.9"/>
</g>
</svg></body></html>
